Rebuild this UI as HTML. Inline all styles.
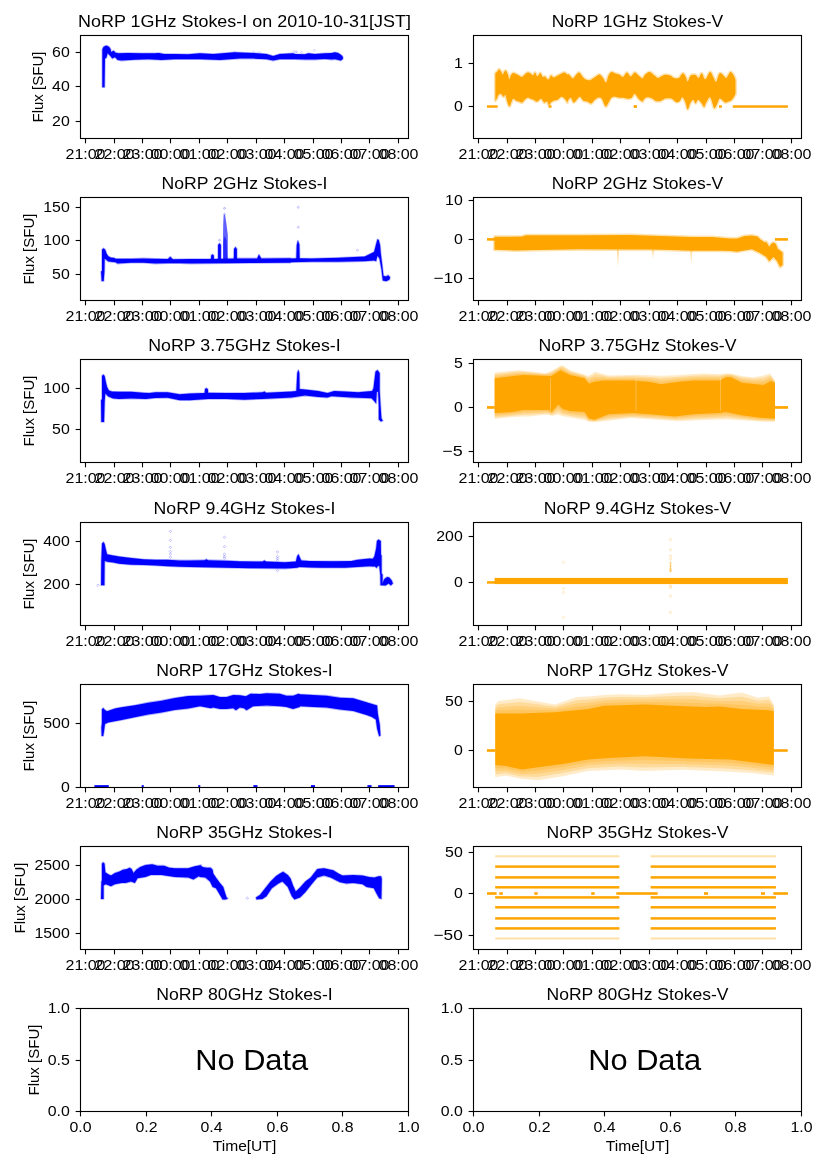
<!DOCTYPE html>
<html><head><meta charset="utf-8"><title>NoRP</title>
<style>html,body{margin:0;padding:0;background:#fff;} svg{display:block;will-change:transform;} text{font-family:"Liberation Sans",sans-serif;}</style>
</head><body>
<svg width="827" height="1169" viewBox="0 0 827 1169">
<rect x="0" y="0" width="827" height="1169" fill="#fff"/>
<g id="data">
<path d="M102.32,49.31 L103.65,46.65 L106.31,45.59 L108.97,46.65 L110.70,49.31 L110.96,51.97 L113.62,50.64 L115.62,52.64 L118.28,53.30 L128.25,53.04 L141.55,53.30 L154.85,53.30 L158.85,53.04 L164.17,53.97 L174.81,53.97 L188.11,54.37 L200.00,53.30 L213.30,53.97 L234.58,52.24 L253.20,53.04 L266.51,53.97 L273.16,55.96 L279.81,53.97 L293.11,53.30 L295.00,53.97 L304.98,54.30 L308.30,53.30 L314.95,53.97 L324.93,53.30 L331.58,52.97 L334.90,52.30 L338.23,52.97 L341.55,55.30 L342.88,56.96 L342.88,58.95 L340.89,60.62 L334.90,59.29 L331.58,59.62 L324.93,58.95 L314.95,59.62 L304.98,59.62 L295.00,59.29 L293.11,59.29 L279.81,59.29 L273.16,60.62 L266.51,59.29 L253.20,58.62 L239.90,58.62 L219.95,59.95 L200.00,59.29 L188.11,59.29 L174.81,59.29 L161.51,59.95 L148.20,59.29 L134.90,59.69 L121.60,60.62 L117.61,59.95 L114.95,57.29 L112.29,58.62 L110.30,55.96 L107.64,53.30 L106.31,57.96 L104.98,58.62 L104.58,87.22 L102.32,87.22Z" fill="none" stroke="#0000ff" stroke-width="1.6" stroke-linejoin="round" opacity="0.3"/>
<path d="M102.32,49.31 L103.65,46.65 L106.31,45.59 L108.97,46.65 L110.70,49.31 L110.96,51.97 L113.62,50.64 L115.62,52.64 L118.28,53.30 L128.25,53.04 L141.55,53.30 L154.85,53.30 L158.85,53.04 L164.17,53.97 L174.81,53.97 L188.11,54.37 L200.00,53.30 L213.30,53.97 L234.58,52.24 L253.20,53.04 L266.51,53.97 L273.16,55.96 L279.81,53.97 L293.11,53.30 L295.00,53.97 L304.98,54.30 L308.30,53.30 L314.95,53.97 L324.93,53.30 L331.58,52.97 L334.90,52.30 L338.23,52.97 L341.55,55.30 L342.88,56.96 L342.88,58.95 L340.89,60.62 L334.90,59.29 L331.58,59.62 L324.93,58.95 L314.95,59.62 L304.98,59.62 L295.00,59.29 L293.11,59.29 L279.81,59.29 L273.16,60.62 L266.51,59.29 L253.20,58.62 L239.90,58.62 L219.95,59.95 L200.00,59.29 L188.11,59.29 L174.81,59.29 L161.51,59.95 L148.20,59.29 L134.90,59.69 L121.60,60.62 L117.61,59.95 L114.95,57.29 L112.29,58.62 L110.30,55.96 L107.64,53.30 L106.31,57.96 L104.98,58.62 L104.58,87.22 L102.32,87.22Z" fill="#0000ff" />
<path d="M313.10,50.30 L314.30,49.10 L315.50,50.30 L314.30,51.50Z" fill="none" stroke="#0000ff" stroke-width="0.6" opacity="0.25"/>
<path d="M300.40,52.30 L301.60,51.10 L302.80,52.30 L301.60,53.50Z" fill="none" stroke="#0000ff" stroke-width="0.6" opacity="0.25"/>
<path d="M294.50,52.00 L295.70,50.80 L296.90,52.00 L295.70,53.20Z" fill="none" stroke="#0000ff" stroke-width="0.6" opacity="0.25"/>
<path d="M233.40,52.20 L234.60,51.00 L235.80,52.20 L234.60,53.40Z" fill="none" stroke="#0000ff" stroke-width="0.6" opacity="0.2"/>
<path d="M252.40,51.80 L253.60,50.60 L254.80,51.80 L253.60,53.00Z" fill="none" stroke="#0000ff" stroke-width="0.6" opacity="0.2"/>
<path d="M258.40,52.40 L259.60,51.20 L260.80,52.40 L259.60,53.60Z" fill="none" stroke="#0000ff" stroke-width="0.6" opacity="0.2"/>
<path d="M292.40,51.20 L293.60,50.00 L294.80,51.20 L293.60,52.40Z" fill="none" stroke="#0000ff" stroke-width="0.6" opacity="0.2"/>
<path d="M295.40,51.80 L296.60,50.60 L297.80,51.80 L296.60,53.00Z" fill="none" stroke="#0000ff" stroke-width="0.6" opacity="0.2"/>
<path d="M495.32,73.54 C495.64,73.22 496.62,72.34 497.26,71.61 C497.90,70.88 498.55,69.19 499.19,69.19 C499.83,69.19 500.56,70.72 501.12,71.61 C501.69,72.50 502.01,74.51 502.58,74.51 C503.14,74.51 503.95,72.25 504.51,71.61 C505.07,70.97 505.39,70.16 505.96,70.64 C506.52,71.12 507.33,73.06 507.90,74.51 C508.46,75.96 508.87,79.19 509.35,79.35 C509.83,79.51 510.16,76.53 510.80,75.48 C511.44,74.43 512.33,73.30 513.22,73.06 C514.11,72.82 515.15,73.63 516.12,74.03 C517.09,74.43 518.05,75.00 519.02,75.48 C519.99,75.96 520.95,77.09 521.92,76.93 C522.89,76.77 523.85,75.24 524.82,74.51 C525.79,73.78 526.76,72.74 527.73,72.58 C528.70,72.42 529.74,73.06 530.63,73.54 C531.52,74.02 532.32,75.64 533.05,75.48 C533.77,75.32 534.25,72.42 534.98,72.58 C535.71,72.74 536.51,76.36 537.40,76.44 C538.29,76.52 539.41,72.98 540.30,73.06 C541.19,73.14 541.91,76.37 542.72,76.93 C543.53,77.49 544.41,76.12 545.14,76.44 C545.87,76.76 546.43,78.38 547.07,78.86 C547.72,79.34 548.37,79.91 549.01,79.35 C549.65,78.79 550.13,75.80 550.94,75.48 C551.75,75.16 552.72,77.41 553.85,77.41 C554.98,77.41 556.42,76.12 557.71,75.48 C559.00,74.84 560.45,74.02 561.58,73.54 C562.71,73.06 563.52,72.42 564.49,72.58 C565.46,72.74 566.66,74.19 567.39,74.51 C568.12,74.83 567.98,73.87 568.87,74.51 C569.76,75.16 571.61,78.22 572.74,78.38 C573.87,78.54 574.59,76.45 575.64,75.48 C576.69,74.51 577.90,72.42 579.03,72.58 C580.16,72.74 581.36,75.31 582.41,76.44 C583.46,77.57 584.18,78.70 585.31,79.35 C586.44,79.99 587.89,80.47 589.18,80.31 C590.47,80.15 591.92,79.02 593.05,78.38 C594.18,77.73 594.91,77.08 595.96,76.44 C597.01,75.80 598.21,74.35 599.34,74.51 C600.47,74.67 601.60,76.12 602.73,77.41 C603.86,78.70 605.14,82.57 606.11,82.25 C607.08,81.93 607.64,77.17 608.53,75.48 C609.42,73.79 610.30,72.41 611.43,72.09 C612.56,71.77 614.01,73.14 615.30,73.54 C616.59,73.94 617.88,73.95 619.17,74.51 C620.46,75.08 621.75,77.25 623.04,76.93 C624.33,76.61 625.62,72.66 626.91,72.58 C628.20,72.50 629.49,76.44 630.78,76.44 C632.07,76.44 633.36,72.74 634.65,72.58 C635.94,72.42 637.23,74.51 638.52,75.48 C639.81,76.45 641.34,78.47 642.39,78.38 C643.44,78.29 643.63,76.03 644.84,74.95 C646.05,73.88 648.06,71.83 649.67,71.93 C651.28,72.03 653.10,74.55 654.51,75.56 C655.92,76.57 656.53,78.07 658.14,77.97 C659.75,77.87 662.16,75.35 664.18,74.95 C666.19,74.55 668.62,75.06 670.23,75.56 C671.84,76.06 672.45,77.57 673.86,77.97 C675.27,78.37 677.18,78.78 678.69,77.97 C680.20,77.16 681.72,73.24 682.93,73.14 C684.14,73.04 685.14,75.96 685.95,77.37 C686.76,78.78 686.95,81.90 687.76,81.60 C688.57,81.30 689.48,76.67 690.79,75.56 C692.10,74.45 694.31,74.55 695.62,74.95 C696.93,75.35 697.64,78.27 698.65,77.97 C699.66,77.67 700.56,72.94 701.67,73.14 C702.78,73.34 703.89,79.38 705.30,79.18 C706.71,78.98 708.72,72.13 710.13,71.93 C711.54,71.73 712.75,76.36 713.76,77.97 C714.77,79.58 715.17,82.41 716.18,81.60 C717.19,80.79 718.40,73.94 719.81,73.14 C721.22,72.34 723.53,75.97 724.64,76.77 C725.75,77.57 725.45,78.78 726.46,77.97 C727.47,77.16 729.28,71.93 730.69,71.93 C732.10,71.93 734.11,76.16 734.92,77.97 C735.73,79.78 735.43,82.00 735.53,82.81 L735.53,93.69 C734.92,94.70 733.31,98.33 731.90,99.74 C730.49,101.15 728.27,101.76 727.06,102.16 C725.85,102.56 725.85,102.77 724.64,102.16 C723.43,101.55 721.02,98.33 719.81,98.53 C718.60,98.73 718.30,101.76 717.39,103.37 C716.48,104.98 715.38,108.81 714.37,108.20 C713.36,107.59 712.15,101.55 711.34,99.74 C710.53,97.93 710.44,96.71 709.53,97.32 C708.62,97.92 706.81,101.76 705.90,103.37 C704.99,104.98 704.80,107.00 704.09,107.00 C703.38,107.00 702.68,104.58 701.67,103.37 C700.66,102.16 699.05,99.74 698.04,99.74 C697.03,99.74 696.43,103.37 695.62,103.37 C694.81,103.37 694.11,99.74 693.20,99.74 C692.29,99.74 691.09,101.76 690.18,103.37 C689.27,104.98 688.57,109.61 687.76,109.41 C686.95,109.21 686.25,104.17 685.34,102.16 C684.43,100.14 683.23,97.52 682.32,97.32 C681.41,97.12 680.91,100.14 679.90,100.95 C678.89,101.76 677.69,102.56 676.28,102.16 C674.87,101.76 673.26,99.14 671.44,98.53 C669.62,97.92 667.20,98.13 665.39,98.53 C663.58,98.93 662.17,100.55 660.56,100.95 C658.95,101.35 657.13,101.35 655.72,100.95 C654.31,100.55 653.50,99.14 652.09,98.53 C650.68,97.92 648.67,97.12 647.26,97.32 C645.85,97.52 644.44,99.03 643.63,99.74 C642.82,100.45 643.24,101.77 642.39,101.60 C641.54,101.42 639.81,99.98 638.52,98.69 C637.23,97.40 635.78,94.02 634.65,93.86 C633.52,93.70 632.88,96.93 631.75,97.73 C630.62,98.53 629.33,98.69 627.88,98.69 C626.43,98.69 624.49,97.89 623.04,97.73 C621.59,97.57 620.46,97.89 619.17,97.73 C617.88,97.57 616.59,96.76 615.30,96.76 C614.01,96.76 612.56,96.76 611.43,97.73 C610.30,98.70 609.50,101.11 608.53,102.56 C607.56,104.01 606.76,107.08 605.63,106.43 C604.50,105.79 603.05,100.14 601.76,98.69 C600.47,97.24 599.18,97.41 597.89,97.73 C596.60,98.05 595.15,99.66 594.02,100.63 C592.89,101.60 592.25,103.37 591.12,103.53 C589.99,103.69 588.54,102.08 587.25,101.60 C585.96,101.12 584.59,101.44 583.38,100.63 C582.17,99.82 580.96,97.08 579.99,96.76 C579.02,96.44 578.63,97.72 577.58,98.69 C576.53,99.66 574.84,102.72 573.71,102.56 C572.58,102.40 571.77,98.05 570.80,97.73 C569.83,97.41 568.47,99.82 567.90,100.63 C567.33,101.44 567.80,102.72 567.39,102.56 C566.98,102.40 566.42,100.63 565.45,99.66 C564.48,98.69 562.87,96.76 561.58,96.76 C560.29,96.76 559.00,99.02 557.71,99.66 C556.42,100.30 554.98,100.15 553.85,100.63 C552.72,101.11 551.75,101.75 550.94,102.56 C550.13,103.37 549.65,105.63 549.01,105.47 C548.37,105.31 547.88,102.08 547.07,101.60 C546.26,101.11 545.14,103.05 544.17,102.56 C543.20,102.08 542.24,99.01 541.27,98.69 C540.30,98.37 539.18,100.14 538.37,100.63 C537.56,101.11 537.24,101.76 536.43,101.60 C535.62,101.44 534.50,100.14 533.53,99.66 C532.56,99.17 531.60,99.01 530.63,98.69 C529.66,98.37 528.70,97.57 527.73,97.73 C526.76,97.89 525.79,98.85 524.82,99.66 C523.85,100.47 522.89,102.24 521.92,102.56 C520.95,102.88 519.99,101.92 519.02,101.60 C518.05,101.28 517.09,101.11 516.12,100.63 C515.15,100.14 514.03,98.37 513.22,98.69 C512.41,99.01 511.92,101.27 511.28,102.56 C510.63,103.85 510.08,106.75 509.35,106.43 C508.62,106.11 507.57,102.56 506.93,100.63 C506.29,98.69 506.05,95.46 505.48,94.82 C504.92,94.17 504.35,96.92 503.54,96.76 C502.73,96.60 501.44,94.18 500.64,93.86 C499.83,93.54 499.35,94.01 498.71,94.82 C498.06,95.62 497.33,97.72 496.77,98.69 C496.20,99.66 495.56,100.31 495.32,100.63Z" fill="none" stroke="#ffa500" stroke-width="3.0" stroke-linejoin="round" opacity="0.3"/>
<path d="M495.32,73.54 C495.64,73.22 496.62,72.34 497.26,71.61 C497.90,70.88 498.55,69.19 499.19,69.19 C499.83,69.19 500.56,70.72 501.12,71.61 C501.69,72.50 502.01,74.51 502.58,74.51 C503.14,74.51 503.95,72.25 504.51,71.61 C505.07,70.97 505.39,70.16 505.96,70.64 C506.52,71.12 507.33,73.06 507.90,74.51 C508.46,75.96 508.87,79.19 509.35,79.35 C509.83,79.51 510.16,76.53 510.80,75.48 C511.44,74.43 512.33,73.30 513.22,73.06 C514.11,72.82 515.15,73.63 516.12,74.03 C517.09,74.43 518.05,75.00 519.02,75.48 C519.99,75.96 520.95,77.09 521.92,76.93 C522.89,76.77 523.85,75.24 524.82,74.51 C525.79,73.78 526.76,72.74 527.73,72.58 C528.70,72.42 529.74,73.06 530.63,73.54 C531.52,74.02 532.32,75.64 533.05,75.48 C533.77,75.32 534.25,72.42 534.98,72.58 C535.71,72.74 536.51,76.36 537.40,76.44 C538.29,76.52 539.41,72.98 540.30,73.06 C541.19,73.14 541.91,76.37 542.72,76.93 C543.53,77.49 544.41,76.12 545.14,76.44 C545.87,76.76 546.43,78.38 547.07,78.86 C547.72,79.34 548.37,79.91 549.01,79.35 C549.65,78.79 550.13,75.80 550.94,75.48 C551.75,75.16 552.72,77.41 553.85,77.41 C554.98,77.41 556.42,76.12 557.71,75.48 C559.00,74.84 560.45,74.02 561.58,73.54 C562.71,73.06 563.52,72.42 564.49,72.58 C565.46,72.74 566.66,74.19 567.39,74.51 C568.12,74.83 567.98,73.87 568.87,74.51 C569.76,75.16 571.61,78.22 572.74,78.38 C573.87,78.54 574.59,76.45 575.64,75.48 C576.69,74.51 577.90,72.42 579.03,72.58 C580.16,72.74 581.36,75.31 582.41,76.44 C583.46,77.57 584.18,78.70 585.31,79.35 C586.44,79.99 587.89,80.47 589.18,80.31 C590.47,80.15 591.92,79.02 593.05,78.38 C594.18,77.73 594.91,77.08 595.96,76.44 C597.01,75.80 598.21,74.35 599.34,74.51 C600.47,74.67 601.60,76.12 602.73,77.41 C603.86,78.70 605.14,82.57 606.11,82.25 C607.08,81.93 607.64,77.17 608.53,75.48 C609.42,73.79 610.30,72.41 611.43,72.09 C612.56,71.77 614.01,73.14 615.30,73.54 C616.59,73.94 617.88,73.95 619.17,74.51 C620.46,75.08 621.75,77.25 623.04,76.93 C624.33,76.61 625.62,72.66 626.91,72.58 C628.20,72.50 629.49,76.44 630.78,76.44 C632.07,76.44 633.36,72.74 634.65,72.58 C635.94,72.42 637.23,74.51 638.52,75.48 C639.81,76.45 641.34,78.47 642.39,78.38 C643.44,78.29 643.63,76.03 644.84,74.95 C646.05,73.88 648.06,71.83 649.67,71.93 C651.28,72.03 653.10,74.55 654.51,75.56 C655.92,76.57 656.53,78.07 658.14,77.97 C659.75,77.87 662.16,75.35 664.18,74.95 C666.19,74.55 668.62,75.06 670.23,75.56 C671.84,76.06 672.45,77.57 673.86,77.97 C675.27,78.37 677.18,78.78 678.69,77.97 C680.20,77.16 681.72,73.24 682.93,73.14 C684.14,73.04 685.14,75.96 685.95,77.37 C686.76,78.78 686.95,81.90 687.76,81.60 C688.57,81.30 689.48,76.67 690.79,75.56 C692.10,74.45 694.31,74.55 695.62,74.95 C696.93,75.35 697.64,78.27 698.65,77.97 C699.66,77.67 700.56,72.94 701.67,73.14 C702.78,73.34 703.89,79.38 705.30,79.18 C706.71,78.98 708.72,72.13 710.13,71.93 C711.54,71.73 712.75,76.36 713.76,77.97 C714.77,79.58 715.17,82.41 716.18,81.60 C717.19,80.79 718.40,73.94 719.81,73.14 C721.22,72.34 723.53,75.97 724.64,76.77 C725.75,77.57 725.45,78.78 726.46,77.97 C727.47,77.16 729.28,71.93 730.69,71.93 C732.10,71.93 734.11,76.16 734.92,77.97 C735.73,79.78 735.43,82.00 735.53,82.81 L735.53,93.69 C734.92,94.70 733.31,98.33 731.90,99.74 C730.49,101.15 728.27,101.76 727.06,102.16 C725.85,102.56 725.85,102.77 724.64,102.16 C723.43,101.55 721.02,98.33 719.81,98.53 C718.60,98.73 718.30,101.76 717.39,103.37 C716.48,104.98 715.38,108.81 714.37,108.20 C713.36,107.59 712.15,101.55 711.34,99.74 C710.53,97.93 710.44,96.71 709.53,97.32 C708.62,97.92 706.81,101.76 705.90,103.37 C704.99,104.98 704.80,107.00 704.09,107.00 C703.38,107.00 702.68,104.58 701.67,103.37 C700.66,102.16 699.05,99.74 698.04,99.74 C697.03,99.74 696.43,103.37 695.62,103.37 C694.81,103.37 694.11,99.74 693.20,99.74 C692.29,99.74 691.09,101.76 690.18,103.37 C689.27,104.98 688.57,109.61 687.76,109.41 C686.95,109.21 686.25,104.17 685.34,102.16 C684.43,100.14 683.23,97.52 682.32,97.32 C681.41,97.12 680.91,100.14 679.90,100.95 C678.89,101.76 677.69,102.56 676.28,102.16 C674.87,101.76 673.26,99.14 671.44,98.53 C669.62,97.92 667.20,98.13 665.39,98.53 C663.58,98.93 662.17,100.55 660.56,100.95 C658.95,101.35 657.13,101.35 655.72,100.95 C654.31,100.55 653.50,99.14 652.09,98.53 C650.68,97.92 648.67,97.12 647.26,97.32 C645.85,97.52 644.44,99.03 643.63,99.74 C642.82,100.45 643.24,101.77 642.39,101.60 C641.54,101.42 639.81,99.98 638.52,98.69 C637.23,97.40 635.78,94.02 634.65,93.86 C633.52,93.70 632.88,96.93 631.75,97.73 C630.62,98.53 629.33,98.69 627.88,98.69 C626.43,98.69 624.49,97.89 623.04,97.73 C621.59,97.57 620.46,97.89 619.17,97.73 C617.88,97.57 616.59,96.76 615.30,96.76 C614.01,96.76 612.56,96.76 611.43,97.73 C610.30,98.70 609.50,101.11 608.53,102.56 C607.56,104.01 606.76,107.08 605.63,106.43 C604.50,105.79 603.05,100.14 601.76,98.69 C600.47,97.24 599.18,97.41 597.89,97.73 C596.60,98.05 595.15,99.66 594.02,100.63 C592.89,101.60 592.25,103.37 591.12,103.53 C589.99,103.69 588.54,102.08 587.25,101.60 C585.96,101.12 584.59,101.44 583.38,100.63 C582.17,99.82 580.96,97.08 579.99,96.76 C579.02,96.44 578.63,97.72 577.58,98.69 C576.53,99.66 574.84,102.72 573.71,102.56 C572.58,102.40 571.77,98.05 570.80,97.73 C569.83,97.41 568.47,99.82 567.90,100.63 C567.33,101.44 567.80,102.72 567.39,102.56 C566.98,102.40 566.42,100.63 565.45,99.66 C564.48,98.69 562.87,96.76 561.58,96.76 C560.29,96.76 559.00,99.02 557.71,99.66 C556.42,100.30 554.98,100.15 553.85,100.63 C552.72,101.11 551.75,101.75 550.94,102.56 C550.13,103.37 549.65,105.63 549.01,105.47 C548.37,105.31 547.88,102.08 547.07,101.60 C546.26,101.11 545.14,103.05 544.17,102.56 C543.20,102.08 542.24,99.01 541.27,98.69 C540.30,98.37 539.18,100.14 538.37,100.63 C537.56,101.11 537.24,101.76 536.43,101.60 C535.62,101.44 534.50,100.14 533.53,99.66 C532.56,99.17 531.60,99.01 530.63,98.69 C529.66,98.37 528.70,97.57 527.73,97.73 C526.76,97.89 525.79,98.85 524.82,99.66 C523.85,100.47 522.89,102.24 521.92,102.56 C520.95,102.88 519.99,101.92 519.02,101.60 C518.05,101.28 517.09,101.11 516.12,100.63 C515.15,100.14 514.03,98.37 513.22,98.69 C512.41,99.01 511.92,101.27 511.28,102.56 C510.63,103.85 510.08,106.75 509.35,106.43 C508.62,106.11 507.57,102.56 506.93,100.63 C506.29,98.69 506.05,95.46 505.48,94.82 C504.92,94.17 504.35,96.92 503.54,96.76 C502.73,96.60 501.44,94.18 500.64,93.86 C499.83,93.54 499.35,94.01 498.71,94.82 C498.06,95.62 497.33,97.72 496.77,98.69 C496.20,99.66 495.56,100.31 495.32,100.63Z" fill="#ffa500"/>
<rect x="486.98" y="105.30" width="10.69" height="2.47" fill="#ffa500" />
<rect x="548.65" y="105.30" width="2.88" height="2.47" fill="#ffa500" />
<rect x="633.96" y="105.30" width="2.88" height="2.47" fill="#ffa500" />
<rect x="732.78" y="105.30" width="55.09" height="2.47" fill="#ffa500" />
<rect x="633.70" y="105.30" width="2.88" height="2.47" fill="#ffa500" />
<rect x="719.01" y="105.30" width="2.88" height="2.47" fill="#ffa500" />
<path d="M102.01,249.67 L103.46,248.22 L105.28,249.67 L106.49,253.30 L108.30,256.32 L110.72,257.53 L114.35,257.90 L115.56,258.74 L131.28,258.74 L143.37,258.38 L155.46,258.74 L167.55,259.11 L168.76,258.14 L170.21,256.69 L171.78,258.14 L172.99,259.35 L190.00,259.11 L214.18,259.11 L238.37,258.38 L257.11,258.38 L258.92,254.51 L261.34,258.38 L290.00,258.14 L291.65,258.52 L296.31,258.26 L296.70,245.22 L297.90,240.57 L299.37,244.56 L299.63,258.26 L311.60,258.52 L338.20,257.86 L364.81,256.53 L371.46,253.20 L374.12,251.87 L376.11,243.89 L377.44,239.24 L378.77,239.90 L380.10,245.22 L380.77,253.20 L382.10,263.85 L383.43,275.82 L386.09,276.48 L388.08,275.15 L390.08,277.15 L389.41,279.81 L386.09,281.14 L382.76,280.47 L381.43,269.17 L379.44,258.52 L377.44,255.86 L376.11,261.19 L374.12,260.52 L364.81,261.19 L338.20,261.85 L311.60,261.85 L291.65,262.25 L290.00,262.73 L250.46,262.97 L226.28,263.22 L190.00,263.58 L179.64,263.22 L167.55,263.22 L155.46,263.58 L143.37,262.73 L131.28,262.73 L117.37,263.58 L115.56,262.37 L108.30,261.52 L105.88,259.59 L104.67,258.74 L104.43,271.44 L103.71,281.11 L101.65,281.11 L101.05,271.44 L102.01,270.83Z" fill="none" stroke="#0000ff" stroke-width="1.6" stroke-linejoin="round" opacity="0.3"/>
<path d="M102.01,249.67 L103.46,248.22 L105.28,249.67 L106.49,253.30 L108.30,256.32 L110.72,257.53 L114.35,257.90 L115.56,258.74 L131.28,258.74 L143.37,258.38 L155.46,258.74 L167.55,259.11 L168.76,258.14 L170.21,256.69 L171.78,258.14 L172.99,259.35 L190.00,259.11 L214.18,259.11 L238.37,258.38 L257.11,258.38 L258.92,254.51 L261.34,258.38 L290.00,258.14 L291.65,258.52 L296.31,258.26 L296.70,245.22 L297.90,240.57 L299.37,244.56 L299.63,258.26 L311.60,258.52 L338.20,257.86 L364.81,256.53 L371.46,253.20 L374.12,251.87 L376.11,243.89 L377.44,239.24 L378.77,239.90 L380.10,245.22 L380.77,253.20 L382.10,263.85 L383.43,275.82 L386.09,276.48 L388.08,275.15 L390.08,277.15 L389.41,279.81 L386.09,281.14 L382.76,280.47 L381.43,269.17 L379.44,258.52 L377.44,255.86 L376.11,261.19 L374.12,260.52 L364.81,261.19 L338.20,261.85 L311.60,261.85 L291.65,262.25 L290.00,262.73 L250.46,262.97 L226.28,263.22 L190.00,263.58 L179.64,263.22 L167.55,263.22 L155.46,263.58 L143.37,262.73 L131.28,262.73 L117.37,263.58 L115.56,262.37 L108.30,261.52 L105.88,259.59 L104.67,258.74 L104.43,271.44 L103.71,281.11 L101.65,281.11 L101.05,271.44 L102.01,270.83Z" fill="#0000ff" />
<path d="M218.10,259.50 L218.10,245.00 L219.50,243.30 L220.90,245.00 L220.90,259.50Z" fill="none" stroke="#0000ff" stroke-width="1.6" stroke-linejoin="round" opacity="0.3"/>
<path d="M218.10,259.50 L218.10,245.00 L219.50,243.30 L220.90,245.00 L220.90,259.50Z" fill="#0000ff" />
<circle cx="219.5" cy="240.2" r="0.9" fill="none" stroke="#0000ff" stroke-width="0.5" opacity="0.5"/>
<path d="M223.00,259.50 L223.00,240.00 L223.20,225.00 L223.60,215.20 L225.00,214.50 L226.20,222.00 L227.80,235.00 L227.80,259.50Z" fill="#0000ff" opacity="0.62"/>
<path d="M223.40,259.50 L223.50,242.00 L224.50,236.00 L226.50,240.00 L227.50,259.50Z" fill="#0000ff" opacity="0.6"/>
<circle cx="224.5" cy="208.3" r="0.9" fill="none" stroke="#0000ff" stroke-width="0.5" opacity="0.5"/>
<circle cx="224.5" cy="214.2" r="0.9" fill="none" stroke="#0000ff" stroke-width="0.5" opacity="0.5"/>
<path d="M233.90,259.50 L234.00,249.00 L235.50,247.00 L236.90,249.00 L236.90,259.50Z" fill="none" stroke="#0000ff" stroke-width="1.6" stroke-linejoin="round" opacity="0.3"/>
<path d="M233.90,259.50 L234.00,249.00 L235.50,247.00 L236.90,249.00 L236.90,259.50Z" fill="#0000ff" />
<path d="M211.00,259.50 L211.20,255.50 L212.40,254.30 L213.80,255.50 L213.90,259.50Z" fill="none" stroke="#0000ff" stroke-width="1.6" stroke-linejoin="round" opacity="0.3"/>
<path d="M211.00,259.50 L211.20,255.50 L212.40,254.30 L213.80,255.50 L213.90,259.50Z" fill="#0000ff" />
<circle cx="298.3" cy="207.3" r="1.0" fill="none" stroke="#0000ff" stroke-width="0.6" opacity="0.35"/>
<circle cx="298.3" cy="227.3" r="1.0" fill="none" stroke="#0000ff" stroke-width="0.6" opacity="0.35"/>
<circle cx="357.5" cy="250.3" r="1.0" fill="none" stroke="#0000ff" stroke-width="0.6" opacity="0.3"/>
<rect x="487.00" y="238.10" width="8.70" height="2.60" fill="#ffa500" />
<path d="M494.50,236.80 L522.00,236.50 L526.00,235.30 L580.00,235.30 L630.00,235.03 L660.83,236.06 L691.67,237.08 L712.22,237.08 L730.00,238.42 L737.26,238.42 L744.51,235.88 L751.77,235.52 L757.57,236.61 L760.47,239.51 L764.82,242.41 L766.28,241.69 L769.18,246.77 L771.35,243.86 L773.53,242.41 L775.71,243.86 L777.88,248.94 L780.79,251.12 L782.60,252.57 L782.60,264.90 L780.06,267.08 L777.16,261.28 L773.53,256.92 L769.18,261.28 L766.28,256.92 L759.02,252.57 L751.77,249.30 L744.51,250.39 L737.26,251.84 L730.00,251.12 L722.50,250.86 L701.95,250.86 L691.67,250.86 L671.11,250.04 L650.56,249.42 L630.00,249.42 L580.00,249.20 L540.00,250.00 L516.00,250.40 L494.50,249.80Z" fill="none" stroke="#ffa500" stroke-width="3.0" stroke-linejoin="round" opacity="0.3"/>
<path d="M494.50,236.80 L522.00,236.50 L526.00,235.30 L580.00,235.30 L630.00,235.03 L660.83,236.06 L691.67,237.08 L712.22,237.08 L730.00,238.42 L737.26,238.42 L744.51,235.88 L751.77,235.52 L757.57,236.61 L760.47,239.51 L764.82,242.41 L766.28,241.69 L769.18,246.77 L771.35,243.86 L773.53,242.41 L775.71,243.86 L777.88,248.94 L780.79,251.12 L782.60,252.57 L782.60,264.90 L780.06,267.08 L777.16,261.28 L773.53,256.92 L769.18,261.28 L766.28,256.92 L759.02,252.57 L751.77,249.30 L744.51,250.39 L737.26,251.84 L730.00,251.12 L722.50,250.86 L701.95,250.86 L691.67,250.86 L671.11,250.04 L650.56,249.42 L630.00,249.42 L580.00,249.20 L540.00,250.00 L516.00,250.40 L494.50,249.80Z" fill="#ffa500" />
<rect x="774.90" y="238.10" width="13.00" height="2.60" fill="#ffa500" />
<path d="M616.89,249.42 L617.92,266.89 L618.95,249.42Z" fill="#ffa500" opacity="0.4"/>
<path d="M651.58,249.42 L653.02,258.67 L654.26,249.42Z" fill="#ffa500" opacity="0.3"/>
<path d="M690.23,250.86 L691.26,263.81 L692.29,250.86Z" fill="#ffa500" opacity="0.35"/>
<path d="M102.01,376.05 L103.22,374.59 L104.67,376.05 L105.88,382.09 L107.09,386.93 L108.91,390.56 L111.93,391.52 L119.18,391.77 L131.28,391.77 L143.37,392.73 L149.41,392.97 L155.46,392.37 L167.55,392.37 L179.64,394.18 L190.00,393.58 L204.51,392.97 L205.11,388.74 L206.32,388.14 L207.90,389.11 L208.14,392.73 L226.28,392.97 L244.41,392.97 L262.55,392.37 L264.37,391.52 L266.18,392.73 L291.65,391.60 L296.31,390.94 L297.24,372.98 L298.30,370.05 L299.37,372.98 L299.63,388.94 L304.95,389.61 L318.25,390.94 L327.56,392.93 L334.21,390.94 L344.85,391.60 L358.16,392.27 L372.12,390.94 L373.45,388.28 L375.45,371.65 L377.44,370.05 L379.70,372.98 L379.70,390.27 L380.50,404.90 L381.43,418.20 L382.76,420.86 L381.03,421.53 L378.77,419.53 L378.77,406.23 L378.11,391.60 L376.78,392.27 L376.11,403.57 L374.12,400.91 L371.46,398.25 L351.51,397.59 L331.55,396.26 L327.56,397.59 L318.25,396.92 L304.95,395.59 L291.65,397.59 L262.55,399.02 L244.41,399.63 L226.28,399.02 L208.14,399.02 L190.00,400.23 L179.64,400.23 L167.55,397.81 L155.46,398.05 L145.79,399.02 L131.28,398.42 L119.18,399.02 L113.14,398.42 L108.30,396.60 L105.28,393.58 L104.67,401.44 L104.07,422.00 L101.29,422.00 L101.05,400.23 L102.01,399.02Z" fill="none" stroke="#0000ff" stroke-width="1.6" stroke-linejoin="round" opacity="0.3"/>
<path d="M102.01,376.05 L103.22,374.59 L104.67,376.05 L105.88,382.09 L107.09,386.93 L108.91,390.56 L111.93,391.52 L119.18,391.77 L131.28,391.77 L143.37,392.73 L149.41,392.97 L155.46,392.37 L167.55,392.37 L179.64,394.18 L190.00,393.58 L204.51,392.97 L205.11,388.74 L206.32,388.14 L207.90,389.11 L208.14,392.73 L226.28,392.97 L244.41,392.97 L262.55,392.37 L264.37,391.52 L266.18,392.73 L291.65,391.60 L296.31,390.94 L297.24,372.98 L298.30,370.05 L299.37,372.98 L299.63,388.94 L304.95,389.61 L318.25,390.94 L327.56,392.93 L334.21,390.94 L344.85,391.60 L358.16,392.27 L372.12,390.94 L373.45,388.28 L375.45,371.65 L377.44,370.05 L379.70,372.98 L379.70,390.27 L380.50,404.90 L381.43,418.20 L382.76,420.86 L381.03,421.53 L378.77,419.53 L378.77,406.23 L378.11,391.60 L376.78,392.27 L376.11,403.57 L374.12,400.91 L371.46,398.25 L351.51,397.59 L331.55,396.26 L327.56,397.59 L318.25,396.92 L304.95,395.59 L291.65,397.59 L262.55,399.02 L244.41,399.63 L226.28,399.02 L208.14,399.02 L190.00,400.23 L179.64,400.23 L167.55,397.81 L155.46,398.05 L145.79,399.02 L131.28,398.42 L119.18,399.02 L113.14,398.42 L108.30,396.60 L105.28,393.58 L104.67,401.44 L104.07,422.00 L101.29,422.00 L101.05,400.23 L102.01,399.02Z" fill="#0000ff" />
<rect x="487.00" y="406.10" width="7.70" height="2.70" fill="#ffa500" />
<rect x="775.00" y="406.10" width="13.00" height="2.70" fill="#ffa500" />
<path d="M494.70,372.60 L512.60,370.78 L518.00,370.28 L523.50,370.72 L529.00,371.35 L545.30,373.22 L548.60,371.94 L551.30,370.87 L551.80,370.59 L556.20,368.13 L558.30,366.97 L560.50,365.75 L562.70,365.15 L566.00,367.38 L570.00,370.15 L584.60,374.53 L586.80,375.76 L589.00,375.41 L593.30,372.92 L594.40,372.35 L595.50,371.79 L603.00,373.88 L608.50,375.62 L630.00,374.88 L634.60,374.86 L638.00,374.97 L650.00,375.17 L661.00,375.78 L675.00,375.32 L677.00,375.25 L682.60,374.85 L693.50,374.06 L704.40,373.52 L715.00,373.93 L719.60,374.11 L720.00,374.07 L726.00,373.42 L730.90,373.52 L731.00,373.53 L741.80,375.90 L753.00,377.21 L758.00,376.39 L763.50,375.48 L769.00,373.71 L770.00,373.41 L771.10,374.81 L775.00,380.75 L775.00,421.82 L771.10,421.76 L770.00,421.74 L769.00,421.73 L763.50,421.64 L758.00,421.34 L753.00,420.98 L741.80,420.18 L731.00,419.63 L730.90,419.62 L726.00,419.38 L720.00,419.61 L719.60,419.62 L715.00,419.67 L704.40,420.06 L693.50,420.45 L682.60,421.05 L677.00,420.94 L675.00,420.91 L661.00,419.92 L650.00,419.15 L638.00,418.48 L634.60,418.24 L630.00,418.10 L608.50,420.72 L603.00,421.26 L595.50,421.99 L594.40,422.10 L593.30,422.04 L589.00,421.82 L586.80,421.01 L584.60,419.89 L570.00,417.52 L566.00,416.85 L562.70,416.29 L560.50,415.50 L558.30,414.70 L556.20,415.11 L551.80,415.98 L551.30,415.84 L548.60,415.11 L545.30,414.77 L529.00,416.43 L523.50,416.43 L518.00,416.70 L512.60,416.98 L494.70,418.88Z" fill="#ffa500" opacity="0.22"/>
<path d="M494.70,374.02 L512.60,372.11 L518.00,371.61 L523.50,371.82 L529.00,372.34 L545.30,373.90 L548.60,372.98 L551.30,372.18 L551.80,371.89 L556.20,369.32 L558.30,368.12 L560.50,366.86 L562.70,366.68 L566.00,368.76 L570.00,371.39 L584.60,375.48 L586.80,377.08 L589.00,377.51 L593.30,375.19 L594.40,374.72 L595.50,374.26 L603.00,375.53 L608.50,376.84 L630.00,376.28 L634.60,376.27 L638.00,376.48 L650.00,376.88 L661.00,377.91 L675.00,377.06 L677.00,376.94 L682.60,376.51 L693.50,375.67 L704.40,375.27 L715.00,375.57 L719.60,375.71 L720.00,375.63 L726.00,374.37 L730.90,374.44 L731.00,374.45 L741.80,377.60 L753.00,378.87 L758.00,378.38 L763.50,377.84 L769.00,375.79 L770.00,375.44 L771.10,376.36 L775.00,381.31 L775.00,421.02 L771.10,420.91 L770.00,420.88 L769.00,420.85 L763.50,420.69 L758.00,420.38 L753.00,419.94 L741.80,418.96 L731.00,418.00 L730.90,417.99 L726.00,417.56 L720.00,417.97 L719.60,417.99 L715.00,418.08 L704.40,418.48 L693.50,418.89 L682.60,419.66 L677.00,419.75 L675.00,419.78 L661.00,418.73 L650.00,417.91 L638.00,417.24 L634.60,416.95 L630.00,416.90 L608.50,419.09 L603.00,420.03 L595.50,421.31 L594.40,421.50 L593.30,421.40 L589.00,421.02 L586.80,419.60 L584.60,417.94 L570.00,415.89 L566.00,415.11 L562.70,414.47 L560.50,413.30 L558.30,412.13 L556.20,413.06 L551.80,415.01 L551.30,414.82 L548.60,413.80 L545.30,413.56 L529.00,414.79 L523.50,414.79 L518.00,415.28 L512.60,415.76 L494.70,417.43Z" fill="#ffa500" opacity="0.22"/>
<path d="M494.70,375.45 L512.60,373.44 L518.00,372.94 L523.50,372.91 L529.00,373.34 L545.30,374.59 L548.60,374.02 L551.30,373.49 L551.80,373.18 L556.20,370.51 L558.30,369.27 L560.50,367.97 L562.70,368.21 L566.00,370.14 L570.00,372.62 L584.60,376.42 L586.80,378.41 L589.00,379.60 L593.30,377.46 L594.40,377.09 L595.50,376.72 L603.00,377.19 L608.50,378.06 L630.00,377.69 L634.60,377.68 L638.00,377.99 L650.00,378.59 L661.00,380.04 L675.00,378.80 L677.00,378.62 L682.60,378.17 L693.50,377.28 L704.40,377.01 L715.00,377.22 L719.60,377.30 L720.00,377.18 L726.00,375.31 L730.90,375.36 L731.00,375.37 L741.80,379.30 L753.00,380.52 L758.00,380.36 L763.50,380.19 L769.00,377.86 L770.00,377.46 L771.10,377.90 L775.00,381.88 L775.00,420.21 L771.10,420.05 L770.00,420.01 L769.00,419.97 L763.50,419.75 L758.00,419.42 L753.00,418.90 L741.80,417.74 L731.00,416.37 L730.90,416.36 L726.00,415.74 L720.00,416.32 L719.60,416.36 L715.00,416.48 L704.40,416.90 L693.50,417.32 L682.60,418.27 L677.00,418.55 L675.00,418.65 L661.00,417.55 L650.00,416.68 L638.00,415.99 L634.60,415.67 L630.00,415.70 L608.50,417.46 L603.00,418.80 L595.50,420.63 L594.40,420.90 L593.30,420.76 L589.00,420.21 L586.80,418.18 L584.60,415.99 L570.00,414.26 L566.00,413.38 L562.70,412.65 L560.50,411.10 L558.30,409.55 L556.20,411.00 L551.80,414.04 L551.30,413.80 L548.60,412.50 L545.30,412.34 L529.00,413.16 L523.50,413.16 L518.00,413.86 L512.60,414.54 L494.70,415.99Z" fill="#ffa500" opacity="0.22"/>
<path d="M494.70,376.88 L512.60,374.77 L518.00,374.27 L523.50,374.01 L529.00,374.33 L545.30,375.28 L548.60,375.06 L551.30,374.79 L551.80,374.48 L556.20,371.71 L558.30,370.43 L560.50,369.09 L562.70,369.75 L566.00,371.52 L570.00,373.86 L584.60,377.36 L586.80,379.73 L589.00,381.70 L593.30,379.73 L594.40,379.46 L595.50,379.19 L603.00,378.84 L608.50,379.28 L630.00,379.09 L634.60,379.09 L638.00,379.49 L650.00,380.29 L661.00,382.17 L675.00,380.54 L677.00,380.31 L682.60,379.83 L693.50,378.89 L704.40,378.76 L715.00,378.86 L719.60,378.90 L720.00,378.74 L726.00,376.26 L730.90,376.28 L731.00,376.28 L741.80,381.00 L753.00,382.18 L758.00,382.35 L763.50,382.55 L769.00,379.93 L770.00,379.49 L771.10,379.45 L775.00,382.44 L775.00,419.41 L771.10,419.20 L770.00,419.14 L769.00,419.09 L763.50,418.80 L758.00,418.46 L753.00,417.86 L741.80,416.52 L731.00,414.74 L730.90,414.73 L726.00,413.92 L720.00,414.68 L719.60,414.73 L715.00,414.89 L704.40,415.32 L693.50,415.76 L682.60,416.88 L677.00,417.36 L675.00,417.53 L661.00,416.36 L650.00,415.44 L638.00,414.75 L634.60,414.38 L630.00,414.50 L608.50,415.83 L603.00,417.57 L595.50,419.95 L594.40,420.30 L593.30,420.12 L589.00,419.41 L586.80,416.77 L584.60,414.05 L570.00,412.63 L566.00,411.64 L562.70,410.82 L560.50,408.90 L558.30,406.98 L556.20,408.94 L551.80,413.07 L551.30,412.78 L548.60,411.20 L545.30,411.12 L529.00,411.53 L523.50,411.53 L518.00,412.43 L512.60,413.32 L494.70,414.54Z" fill="#ffa500" opacity="0.22"/>
<path d="M494.70,378.30 L512.60,376.10 L523.50,375.10 L548.60,376.10 L551.30,376.10 L556.20,372.90 L560.50,370.20 L566.00,372.90 L570.00,375.10 L584.60,378.30 L589.00,383.80 L593.30,382.00 L603.00,380.50 L634.60,380.50 L638.00,381.00 L650.00,382.00 L661.00,384.30 L677.00,382.00 L693.50,380.50 L719.60,380.50 L726.00,377.20 L731.00,377.20 L741.80,382.70 L763.50,384.90 L769.00,382.00 L771.10,381.00 L775.00,383.00 L775.00,418.60 L758.00,417.50 L741.80,415.30 L726.00,412.10 L719.60,413.10 L693.50,414.20 L675.00,416.40 L650.00,414.20 L638.00,413.50 L634.60,413.10 L608.50,414.20 L594.40,419.70 L589.00,418.60 L584.60,412.10 L570.00,411.00 L562.70,409.00 L558.30,404.40 L551.80,412.10 L548.60,409.90 L523.50,409.90 L512.60,412.10 L494.70,413.10Z" fill="#ffa500" />
<rect x="550.00" y="378" width="0.8" height="33" fill="#fff" opacity="0.35"/>
<rect x="635.60" y="378" width="0.8" height="33" fill="#fff" opacity="0.35"/>
<rect x="720.10" y="378" width="0.8" height="33" fill="#fff" opacity="0.35"/>
<path d="M102.01,543.46 L103.46,542.01 L104.67,544.07 L105.88,549.51 L107.09,554.35 L111.93,555.31 L119.18,556.52 L125.23,557.37 L131.28,557.97 L143.37,559.18 L155.46,559.79 L167.55,559.79 L179.64,560.39 L190.00,560.39 L204.51,560.15 L206.32,559.18 L208.14,560.15 L226.28,560.63 L238.37,561.36 L262.55,561.60 L264.37,560.39 L266.18,561.60 L285.00,562.21 L295.88,561.60 L297.09,556.16 L298.54,554.35 L300.11,557.97 L301.32,560.39 L309.18,561.00 L333.37,561.36 L351.51,561.00 L357.55,559.79 L369.64,558.58 L372.80,558.70 L374.40,556.20 L376.20,548.00 L376.90,541.00 L378.50,539.50 L380.80,541.00 L381.00,555.00 L381.60,555.20 L381.60,573.60 L382.60,574.50 L382.60,583.50 L383.40,580.80 L384.60,578.80 L387.20,577.00 L389.30,577.50 L391.80,580.60 L392.90,583.40 L390.80,585.40 L388.70,583.40 L385.70,585.40 L380.50,585.20 L380.30,575.20 L379.20,565.40 L377.50,566.50 L376.50,568.00 L375.00,566.50 L372.00,566.50 L369.64,566.20 L357.55,567.04 L345.46,567.65 L333.37,567.65 L321.28,567.65 L309.18,567.41 L299.51,567.04 L297.09,567.65 L291.05,568.25 L285.00,568.62 L250.46,568.25 L226.28,567.65 L190.00,567.04 L179.64,566.68 L167.55,566.20 L155.46,565.47 L143.37,564.99 L131.28,564.63 L119.18,563.78 L113.14,562.57 L107.09,561.84 L104.67,561.00 L104.43,585.18 L101.05,585.18 L101.29,561.00Z" fill="none" stroke="#0000ff" stroke-width="1.6" stroke-linejoin="round" opacity="0.3"/>
<path d="M102.01,543.46 L103.46,542.01 L104.67,544.07 L105.88,549.51 L107.09,554.35 L111.93,555.31 L119.18,556.52 L125.23,557.37 L131.28,557.97 L143.37,559.18 L155.46,559.79 L167.55,559.79 L179.64,560.39 L190.00,560.39 L204.51,560.15 L206.32,559.18 L208.14,560.15 L226.28,560.63 L238.37,561.36 L262.55,561.60 L264.37,560.39 L266.18,561.60 L285.00,562.21 L295.88,561.60 L297.09,556.16 L298.54,554.35 L300.11,557.97 L301.32,560.39 L309.18,561.00 L333.37,561.36 L351.51,561.00 L357.55,559.79 L369.64,558.58 L372.80,558.70 L374.40,556.20 L376.20,548.00 L376.90,541.00 L378.50,539.50 L380.80,541.00 L381.00,555.00 L381.60,555.20 L381.60,573.60 L382.60,574.50 L382.60,583.50 L383.40,580.80 L384.60,578.80 L387.20,577.00 L389.30,577.50 L391.80,580.60 L392.90,583.40 L390.80,585.40 L388.70,583.40 L385.70,585.40 L380.50,585.20 L380.30,575.20 L379.20,565.40 L377.50,566.50 L376.50,568.00 L375.00,566.50 L372.00,566.50 L369.64,566.20 L357.55,567.04 L345.46,567.65 L333.37,567.65 L321.28,567.65 L309.18,567.41 L299.51,567.04 L297.09,567.65 L291.05,568.25 L285.00,568.62 L250.46,568.25 L226.28,567.65 L190.00,567.04 L179.64,566.68 L167.55,566.20 L155.46,565.47 L143.37,564.99 L131.28,564.63 L119.18,563.78 L113.14,562.57 L107.09,561.84 L104.67,561.00 L104.43,585.18 L101.05,585.18 L101.29,561.00Z" fill="#0000ff" />
<rect x="486.98" y="581.20" width="8.22" height="2.47" fill="#ffa500" />
<rect x="494.58" y="577.91" width="293.32" height="6.17" fill="#ffa500" />
<path d="M101.92,709.29 L103.25,707.96 L104.98,709.95 L106.97,711.28 L114.95,708.62 L121.60,707.29 L134.90,705.30 L148.20,702.64 L161.51,700.64 L174.81,697.98 L188.11,695.99 L200.00,695.64 L213.30,694.98 L219.95,696.97 L226.60,696.97 L233.25,694.98 L239.90,695.37 L245.89,696.31 L250.54,693.65 L259.85,694.04 L266.51,693.25 L279.81,693.65 L286.46,695.64 L293.11,695.64 L298.43,693.65 L300.00,694.31 L313.30,694.98 L326.60,695.64 L339.90,697.64 L353.20,698.30 L366.51,702.29 L377.15,705.62 L377.81,713.60 L379.81,724.90 L380.47,735.54 L379.14,736.21 L377.15,728.89 L375.82,719.58 L371.83,716.92 L366.51,714.93 L353.20,710.94 L339.90,709.61 L326.60,707.61 L313.30,706.95 L300.00,706.28 L299.76,706.95 L293.11,708.94 L286.46,706.95 L279.81,706.28 L266.51,705.62 L253.20,706.28 L246.55,710.27 L243.89,708.28 L239.90,707.61 L235.91,710.27 L233.25,708.28 L226.60,708.94 L219.95,708.94 L213.30,707.61 L210.64,708.28 L200.00,706.28 L188.11,708.62 L174.81,709.95 L161.51,712.61 L148.20,714.61 L134.90,717.27 L121.60,719.93 L108.30,722.59 L104.98,723.92 L104.04,731.23 L103.25,735.89 L101.65,735.89 L101.38,727.24 L101.92,723.25Z" fill="none" stroke="#0000ff" stroke-width="1.6" stroke-linejoin="round" opacity="0.3"/>
<path d="M101.92,709.29 L103.25,707.96 L104.98,709.95 L106.97,711.28 L114.95,708.62 L121.60,707.29 L134.90,705.30 L148.20,702.64 L161.51,700.64 L174.81,697.98 L188.11,695.99 L200.00,695.64 L213.30,694.98 L219.95,696.97 L226.60,696.97 L233.25,694.98 L239.90,695.37 L245.89,696.31 L250.54,693.65 L259.85,694.04 L266.51,693.25 L279.81,693.65 L286.46,695.64 L293.11,695.64 L298.43,693.65 L300.00,694.31 L313.30,694.98 L326.60,695.64 L339.90,697.64 L353.20,698.30 L366.51,702.29 L377.15,705.62 L377.81,713.60 L379.81,724.90 L380.47,735.54 L379.14,736.21 L377.15,728.89 L375.82,719.58 L371.83,716.92 L366.51,714.93 L353.20,710.94 L339.90,709.61 L326.60,707.61 L313.30,706.95 L300.00,706.28 L299.76,706.95 L293.11,708.94 L286.46,706.95 L279.81,706.28 L266.51,705.62 L253.20,706.28 L246.55,710.27 L243.89,708.28 L239.90,707.61 L235.91,710.27 L233.25,708.28 L226.60,708.94 L219.95,708.94 L213.30,707.61 L210.64,708.28 L200.00,706.28 L188.11,708.62 L174.81,709.95 L161.51,712.61 L148.20,714.61 L134.90,717.27 L121.60,719.93 L108.30,722.59 L104.98,723.92 L104.04,731.23 L103.25,735.89 L101.65,735.89 L101.38,727.24 L101.92,723.25Z" fill="#0000ff" />
<rect x="94.39" y="785.14" width="14.39" height="2.06" fill="#0000ff" />
<rect x="141.67" y="785.14" width="2.06" height="2.06" fill="#0000ff" />
<rect x="198.20" y="785.14" width="2.06" height="2.06" fill="#0000ff" />
<rect x="253.36" y="785.14" width="4.11" height="2.06" fill="#0000ff" />
<rect x="310.92" y="785.14" width="4.11" height="2.06" fill="#0000ff" />
<rect x="367.45" y="785.14" width="4.11" height="2.06" fill="#0000ff" />
<rect x="378.14" y="785.14" width="16.44" height="2.06" fill="#0000ff" />
<rect x="486.90" y="749.20" width="8.40" height="2.60" fill="#ffa500" />
<rect x="773.80" y="749.20" width="13.90" height="2.60" fill="#ffa500" />
<path d="M495.30,704.68 L498.00,701.08 L506.00,700.06 L520.00,698.28 L522.00,698.63 L538.00,701.46 L555.00,704.46 L563.00,701.77 L577.00,697.06 L588.00,696.39 L604.00,695.09 L609.00,694.86 L620.00,694.34 L645.00,694.90 L673.00,692.68 L683.00,692.37 L689.00,692.18 L694.00,692.02 L705.00,693.56 L720.00,695.46 L730.00,694.12 L742.00,692.52 L748.00,694.52 L758.00,697.86 L767.00,696.70 L769.00,696.48 L773.80,704.24 L773.80,775.48 L769.00,774.97 L767.00,774.76 L758.00,773.81 L748.00,772.76 L742.00,772.43 L730.00,771.76 L720.00,771.33 L705.00,770.69 L694.00,770.22 L689.00,770.00 L683.00,769.72 L673.00,770.08 L645.00,771.10 L620.00,769.58 L609.00,770.07 L604.00,770.32 L588.00,771.12 L577.00,773.33 L563.00,776.14 L555.00,777.45 L538.00,780.24 L522.00,778.92 L520.00,778.52 L506.00,775.70 L498.00,776.85 L495.30,777.24Z" fill="#ffa500" opacity="0.22"/>
<path d="M495.30,706.86 L498.00,704.16 L506.00,703.40 L520.00,702.06 L522.00,702.31 L538.00,704.30 L555.00,706.42 L563.00,704.20 L577.00,700.32 L588.00,699.54 L604.00,697.77 L609.00,697.55 L620.00,697.08 L645.00,697.30 L673.00,695.96 L683.00,695.81 L689.00,695.72 L694.00,695.65 L705.00,696.89 L720.00,698.22 L730.00,697.50 L742.00,696.64 L748.00,698.21 L758.00,700.82 L767.00,700.05 L769.00,699.97 L773.80,705.98 L773.80,772.86 L769.00,772.33 L767.00,772.11 L758.00,771.12 L748.00,770.02 L742.00,769.59 L730.00,768.72 L720.00,768.33 L705.00,767.75 L694.00,767.32 L689.00,767.13 L683.00,766.84 L673.00,766.99 L645.00,767.40 L620.00,766.55 L609.00,767.05 L604.00,767.33 L588.00,768.24 L577.00,770.37 L563.00,773.08 L555.00,774.33 L538.00,776.98 L522.00,776.54 L520.00,776.13 L506.00,773.30 L498.00,773.96 L495.30,774.18Z" fill="#ffa500" opacity="0.22"/>
<path d="M495.30,709.04 L498.00,707.24 L506.00,706.73 L520.00,705.84 L522.00,705.99 L538.00,707.15 L555.00,708.38 L563.00,706.63 L577.00,703.58 L588.00,702.69 L604.00,700.45 L609.00,700.25 L620.00,699.82 L645.00,699.70 L673.00,699.24 L683.00,699.26 L689.00,699.27 L694.00,699.27 L705.00,700.23 L720.00,700.98 L730.00,700.88 L742.00,700.76 L748.00,701.89 L758.00,703.78 L767.00,703.40 L769.00,703.45 L773.80,707.72 L773.80,770.24 L769.00,769.69 L767.00,769.46 L758.00,768.43 L748.00,767.28 L742.00,766.75 L730.00,765.68 L720.00,765.33 L705.00,764.81 L694.00,764.43 L689.00,764.25 L683.00,763.96 L673.00,763.89 L645.00,763.70 L620.00,763.53 L609.00,764.03 L604.00,764.35 L588.00,765.36 L577.00,767.41 L563.00,770.02 L555.00,771.20 L538.00,773.72 L522.00,774.16 L520.00,773.75 L506.00,770.90 L498.00,771.06 L495.30,771.12Z" fill="#ffa500" opacity="0.22"/>
<path d="M495.30,711.22 L498.00,710.32 L506.00,710.07 L520.00,709.62 L522.00,709.66 L538.00,709.99 L555.00,710.34 L563.00,709.07 L577.00,706.84 L588.00,705.85 L604.00,703.12 L609.00,702.95 L620.00,702.55 L645.00,702.10 L673.00,702.52 L683.00,702.70 L689.00,702.81 L694.00,702.90 L705.00,703.56 L720.00,703.74 L730.00,704.26 L742.00,704.88 L748.00,705.58 L758.00,706.74 L767.00,706.75 L769.00,706.94 L773.80,709.46 L773.80,767.62 L769.00,767.05 L767.00,766.81 L758.00,765.73 L748.00,764.54 L742.00,763.91 L730.00,762.64 L720.00,762.33 L705.00,761.87 L694.00,761.53 L689.00,761.38 L683.00,761.08 L673.00,760.80 L645.00,760.00 L620.00,760.50 L609.00,761.02 L604.00,761.36 L588.00,762.48 L577.00,764.45 L563.00,766.96 L555.00,768.08 L538.00,770.46 L522.00,771.78 L520.00,771.37 L506.00,768.50 L498.00,768.17 L495.30,768.06Z" fill="#ffa500" opacity="0.22"/>
<path d="M495.30,713.40 L520.00,713.40 L555.00,712.30 L588.00,709.00 L604.00,705.80 L645.00,704.50 L673.00,705.80 L705.00,706.90 L720.00,706.50 L742.00,709.00 L767.00,710.10 L773.80,711.20 L773.80,765.00 L748.00,761.80 L730.00,759.60 L689.00,758.50 L645.00,756.30 L609.00,758.00 L588.00,759.60 L563.00,763.90 L538.00,767.20 L522.00,769.40 L506.00,766.10 L495.30,765.00Z" fill="#ffa500" />
<path d="M101.92,863.65 L103.25,862.32 L104.58,863.65 L105.37,872.29 L108.30,874.29 L110.96,875.62 L114.95,872.96 L118.94,871.63 L122.93,869.63 L126.92,868.97 L129.58,867.64 L131.58,868.97 L133.57,872.96 L136.23,869.63 L140.22,866.97 L145.54,864.98 L152.19,864.31 L157.52,865.64 L164.17,865.64 L169.49,867.64 L174.81,868.30 L188.11,868.30 L194.76,866.31 L201.41,864.98 L200.00,864.98 L202.66,866.97 L206.65,867.64 L210.64,867.64 L212.64,869.63 L213.30,873.62 L215.96,877.61 L219.95,882.93 L223.28,886.92 L225.27,893.57 L226.60,897.56 L227.93,898.23 L225.94,899.56 L222.61,899.56 L219.95,894.90 L215.96,888.25 L212.64,886.92 L209.98,881.60 L205.32,877.61 L200.00,876.95 L198.75,876.28 L193.43,879.61 L188.11,877.61 L174.81,876.95 L161.51,874.95 L150.86,874.95 L145.54,876.95 L137.56,878.28 L134.90,882.93 L130.91,881.60 L125.59,882.93 L121.60,882.93 L114.95,884.26 L110.96,886.26 L105.64,884.26 L103.65,885.59 L103.65,898.89 L100.99,898.89 L101.38,881.60 L101.92,880.27Z" fill="none" stroke="#0000ff" stroke-width="1.6" stroke-linejoin="round" opacity="0.3"/>
<path d="M101.92,863.65 L103.25,862.32 L104.58,863.65 L105.37,872.29 L108.30,874.29 L110.96,875.62 L114.95,872.96 L118.94,871.63 L122.93,869.63 L126.92,868.97 L129.58,867.64 L131.58,868.97 L133.57,872.96 L136.23,869.63 L140.22,866.97 L145.54,864.98 L152.19,864.31 L157.52,865.64 L164.17,865.64 L169.49,867.64 L174.81,868.30 L188.11,868.30 L194.76,866.31 L201.41,864.98 L200.00,864.98 L202.66,866.97 L206.65,867.64 L210.64,867.64 L212.64,869.63 L213.30,873.62 L215.96,877.61 L219.95,882.93 L223.28,886.92 L225.27,893.57 L226.60,897.56 L227.93,898.23 L225.94,899.56 L222.61,899.56 L219.95,894.90 L215.96,888.25 L212.64,886.92 L209.98,881.60 L205.32,877.61 L200.00,876.95 L198.75,876.28 L193.43,879.61 L188.11,877.61 L174.81,876.95 L161.51,874.95 L150.86,874.95 L145.54,876.95 L137.56,878.28 L134.90,882.93 L130.91,881.60 L125.59,882.93 L121.60,882.93 L114.95,884.26 L110.96,886.26 L105.64,884.26 L103.65,885.59 L103.65,898.89 L100.99,898.89 L101.38,881.60 L101.92,880.27Z" fill="#0000ff" />
<path d="M255.86,897.56 L259.85,894.90 L265.18,888.25 L270.50,881.60 L275.82,876.28 L279.81,873.62 L283.13,871.63 L287.79,874.95 L290.45,878.28 L293.11,885.59 L295.77,891.58 L300.00,887.59 L305.32,881.60 L310.64,877.61 L317.29,868.97 L323.94,868.30 L333.25,870.30 L338.57,873.62 L342.56,875.62 L353.20,874.95 L362.52,875.62 L369.17,876.95 L374.49,877.61 L378.48,876.28 L381.14,876.28 L381.80,878.94 L381.40,898.89 L379.14,898.23 L376.48,893.57 L373.82,888.25 L366.51,886.92 L362.52,884.26 L353.20,882.93 L346.55,883.60 L339.90,882.27 L335.91,880.27 L330.59,877.61 L323.94,875.62 L317.29,877.61 L310.64,885.59 L305.32,892.24 L300.00,897.56 L294.44,899.56 L291.78,896.23 L287.79,886.92 L285.13,884.26 L282.47,881.60 L278.48,883.60 L271.83,888.25 L266.51,896.23 L262.52,898.89 L256.53,899.56Z" fill="none" stroke="#0000ff" stroke-width="1.6" stroke-linejoin="round" opacity="0.3"/>
<path d="M255.86,897.56 L259.85,894.90 L265.18,888.25 L270.50,881.60 L275.82,876.28 L279.81,873.62 L283.13,871.63 L287.79,874.95 L290.45,878.28 L293.11,885.59 L295.77,891.58 L300.00,887.59 L305.32,881.60 L310.64,877.61 L317.29,868.97 L323.94,868.30 L333.25,870.30 L338.57,873.62 L342.56,875.62 L353.20,874.95 L362.52,875.62 L369.17,876.95 L374.49,877.61 L378.48,876.28 L381.14,876.28 L381.80,878.94 L381.40,898.89 L379.14,898.23 L376.48,893.57 L373.82,888.25 L366.51,886.92 L362.52,884.26 L353.20,882.93 L346.55,883.60 L339.90,882.27 L335.91,880.27 L330.59,877.61 L323.94,875.62 L317.29,877.61 L310.64,885.59 L305.32,892.24 L300.00,897.56 L294.44,899.56 L291.78,896.23 L287.79,886.92 L285.13,884.26 L282.47,881.60 L278.48,883.60 L271.83,888.25 L266.51,896.23 L262.52,898.89 L256.53,899.56Z" fill="#0000ff" />
<path d="M245.9,898.2 L247.2,896.9 L248.5,898.2 L247.2,899.5Z" fill="none" stroke="#0000ff" stroke-width="0.7" opacity="0.35"/>
<rect x="495.20" y="865.35" width="124.20" height="2.50" fill="#ffa500" />
<rect x="650.60" y="865.35" width="125.30" height="2.50" fill="#ffa500" />
<rect x="495.20" y="876.15" width="124.20" height="2.50" fill="#ffa500" />
<rect x="650.60" y="876.15" width="125.30" height="2.50" fill="#ffa500" />
<rect x="495.20" y="886.05" width="124.20" height="2.50" fill="#ffa500" />
<rect x="650.60" y="886.05" width="125.30" height="2.50" fill="#ffa500" />
<rect x="495.20" y="896.15" width="124.20" height="2.50" fill="#ffa500" />
<rect x="650.60" y="896.15" width="125.30" height="2.50" fill="#ffa500" />
<rect x="495.20" y="906.05" width="124.20" height="2.50" fill="#ffa500" />
<rect x="650.60" y="906.05" width="125.30" height="2.50" fill="#ffa500" />
<rect x="495.20" y="917.15" width="124.20" height="2.50" fill="#ffa500" />
<rect x="650.60" y="917.15" width="125.30" height="2.50" fill="#ffa500" />
<rect x="495.20" y="927.15" width="124.20" height="2.50" fill="#ffa500" />
<rect x="650.60" y="927.15" width="125.30" height="2.50" fill="#ffa500" />
<rect x="495.20" y="855.30" width="124.20" height="2.00" fill="#ffa500" opacity="0.35"/>
<rect x="650.60" y="855.30" width="125.30" height="2.00" fill="#ffa500" opacity="0.35"/>
<rect x="495.20" y="937.50" width="124.20" height="2.00" fill="#ffa500" opacity="0.35"/>
<rect x="650.60" y="937.50" width="125.30" height="2.00" fill="#ffa500" opacity="0.35"/>
<rect x="487.00" y="892.20" width="9.60" height="2.60" fill="#ffa500" />
<rect x="499.30" y="892.20" width="3.50" height="2.60" fill="#ffa500" />
<rect x="534.30" y="892.20" width="3.40" height="2.60" fill="#ffa500" />
<rect x="591.20" y="892.20" width="3.50" height="2.60" fill="#ffa500" />
<rect x="616.30" y="892.20" width="41.40" height="2.60" fill="#ffa500" />
<rect x="704.00" y="892.20" width="4.10" height="2.60" fill="#ffa500" />
<rect x="760.90" y="892.20" width="4.10" height="2.60" fill="#ffa500" />
<rect x="773.30" y="892.20" width="14.60" height="2.60" fill="#ffa500" />
<path d="M169.10,531.30 L170.40,530.00 L171.70,531.30 L170.40,532.60Z" fill="none" stroke="#0000ff" stroke-width="0.7" opacity="0.32"/>
<path d="M169.10,540.30 L170.40,539.00 L171.70,540.30 L170.40,541.60Z" fill="none" stroke="#0000ff" stroke-width="0.7" opacity="0.32"/>
<path d="M169.10,547.30 L170.40,546.00 L171.70,547.30 L170.40,548.60Z" fill="none" stroke="#0000ff" stroke-width="0.7" opacity="0.32"/>
<path d="M169.10,551.40 L170.40,550.10 L171.70,551.40 L170.40,552.70Z" fill="none" stroke="#0000ff" stroke-width="0.7" opacity="0.32"/>
<path d="M169.10,554.10 L170.40,552.80 L171.70,554.10 L170.40,555.40Z" fill="none" stroke="#0000ff" stroke-width="0.7" opacity="0.32"/>
<path d="M169.10,557.20 L170.40,555.90 L171.70,557.20 L170.40,558.50Z" fill="none" stroke="#0000ff" stroke-width="0.7" opacity="0.32"/>
<path d="M223.20,537.30 L224.50,536.00 L225.80,537.30 L224.50,538.60Z" fill="none" stroke="#0000ff" stroke-width="0.7" opacity="0.32"/>
<path d="M223.20,546.70 L224.50,545.40 L225.80,546.70 L224.50,548.00Z" fill="none" stroke="#0000ff" stroke-width="0.7" opacity="0.32"/>
<path d="M223.20,554.10 L224.50,552.80 L225.80,554.10 L224.50,555.40Z" fill="none" stroke="#0000ff" stroke-width="0.7" opacity="0.32"/>
<path d="M223.20,556.40 L224.50,555.10 L225.80,556.40 L224.50,557.70Z" fill="none" stroke="#0000ff" stroke-width="0.7" opacity="0.32"/>
<path d="M223.20,558.00 L224.50,556.70 L225.80,558.00 L224.50,559.30Z" fill="none" stroke="#0000ff" stroke-width="0.7" opacity="0.32"/>
<path d="M276.20,552.00 L277.50,550.70 L278.80,552.00 L277.50,553.30Z" fill="none" stroke="#0000ff" stroke-width="0.7" opacity="0.32"/>
<path d="M276.20,556.40 L277.50,555.10 L278.80,556.40 L277.50,557.70Z" fill="none" stroke="#0000ff" stroke-width="0.7" opacity="0.32"/>
<path d="M276.20,558.50 L277.50,557.20 L278.80,558.50 L277.50,559.80Z" fill="none" stroke="#0000ff" stroke-width="0.7" opacity="0.32"/>
<path d="M276.20,560.40 L277.50,559.10 L278.80,560.40 L277.50,561.70Z" fill="none" stroke="#0000ff" stroke-width="0.7" opacity="0.32"/>
<path d="M276.20,570.60 L277.50,569.30 L278.80,570.60 L277.50,571.90Z" fill="none" stroke="#0000ff" stroke-width="0.7" opacity="0.32"/>
<path d="M96.70,585.30 L98.00,584.00 L99.30,585.30 L98.00,586.60Z" fill="none" stroke="#0000ff" stroke-width="0.7" opacity="0.32"/>
<path d="M669.20,539.50 L670.50,538.20 L671.80,539.50 L670.50,540.80Z" fill="none" stroke="#ffa500" stroke-width="0.7" opacity="0.4"/>
<path d="M669.20,549.80 L670.50,548.50 L671.80,549.80 L670.50,551.10Z" fill="none" stroke="#ffa500" stroke-width="0.7" opacity="0.4"/>
<path d="M669.20,556.00 L670.50,554.70 L671.80,556.00 L670.50,557.30Z" fill="none" stroke="#ffa500" stroke-width="0.7" opacity="0.4"/>
<path d="M669.20,559.00 L670.50,557.70 L671.80,559.00 L670.50,560.30Z" fill="none" stroke="#ffa500" stroke-width="0.7" opacity="0.4"/>
<path d="M669.20,563.00 L670.50,561.70 L671.80,563.00 L670.50,564.30Z" fill="none" stroke="#ffa500" stroke-width="0.7" opacity="0.4"/>
<path d="M669.20,566.00 L670.50,564.70 L671.80,566.00 L670.50,567.30Z" fill="none" stroke="#ffa500" stroke-width="0.7" opacity="0.4"/>
<path d="M669.20,569.00 L670.50,567.70 L671.80,569.00 L670.50,570.30Z" fill="none" stroke="#ffa500" stroke-width="0.7" opacity="0.4"/>
<path d="M669.20,571.00 L670.50,569.70 L671.80,571.00 L670.50,572.30Z" fill="none" stroke="#ffa500" stroke-width="0.7" opacity="0.4"/>
<path d="M669.20,586.00 L670.50,584.70 L671.80,586.00 L670.50,587.30Z" fill="none" stroke="#ffa500" stroke-width="0.7" opacity="0.4"/>
<path d="M669.20,587.50 L670.50,586.20 L671.80,587.50 L670.50,588.80Z" fill="none" stroke="#ffa500" stroke-width="0.7" opacity="0.4"/>
<path d="M669.20,596.00 L670.50,594.70 L671.80,596.00 L670.50,597.30Z" fill="none" stroke="#ffa500" stroke-width="0.7" opacity="0.4"/>
<path d="M669.20,612.40 L670.50,611.10 L671.80,612.40 L670.50,613.70Z" fill="none" stroke="#ffa500" stroke-width="0.7" opacity="0.4"/>
<path d="M669.80,572.00 L670.20,562.00 L670.80,562.00 L671.20,572.00Z" fill="#ffa500" opacity="0.5"/>
<path d="M562.20,562.30 L563.50,561.00 L564.80,562.30 L563.50,563.60Z" fill="none" stroke="#ffa500" stroke-width="0.7" opacity="0.35"/>
<path d="M562.20,588.50 L563.50,587.20 L564.80,588.50 L563.50,589.80Z" fill="none" stroke="#ffa500" stroke-width="0.7" opacity="0.35"/>
<path d="M562.20,592.50 L563.50,591.20 L564.80,592.50 L563.50,593.80Z" fill="none" stroke="#ffa500" stroke-width="0.7" opacity="0.35"/>
<path d="M562.20,617.40 L563.50,616.10 L564.80,617.40 L563.50,618.70Z" fill="none" stroke="#ffa500" stroke-width="0.7" opacity="0.35"/>
</g>
<g id="frames">
<rect x="80.5" y="35.5" width="328.0" height="103.0" fill="none" stroke="#000" stroke-width="1.111" stroke-linejoin="miter"/>
<line x1="85.5" y1="138.5" x2="85.5" y2="143.36" stroke="#000" stroke-width="1.111"/>
<text x="85.50" y="158.80" font-size="14.72" text-anchor="middle" textLength="40.03" lengthAdjust="spacingAndGlyphs"  fill="#000">21:00</text>
<line x1="114.5" y1="138.5" x2="114.5" y2="143.36" stroke="#000" stroke-width="1.111"/>
<text x="114.50" y="158.80" font-size="14.72" text-anchor="middle" textLength="40.03" lengthAdjust="spacingAndGlyphs"  fill="#000">22:00</text>
<line x1="142.5" y1="138.5" x2="142.5" y2="143.36" stroke="#000" stroke-width="1.111"/>
<text x="142.50" y="158.80" font-size="14.72" text-anchor="middle" textLength="40.03" lengthAdjust="spacingAndGlyphs"  fill="#000">23:00</text>
<line x1="170.5" y1="138.5" x2="170.5" y2="143.36" stroke="#000" stroke-width="1.111"/>
<text x="170.50" y="158.80" font-size="14.72" text-anchor="middle" textLength="40.03" lengthAdjust="spacingAndGlyphs"  fill="#000">00:00</text>
<line x1="199.5" y1="138.5" x2="199.5" y2="143.36" stroke="#000" stroke-width="1.111"/>
<text x="199.50" y="158.80" font-size="14.72" text-anchor="middle" textLength="40.03" lengthAdjust="spacingAndGlyphs"  fill="#000">01:00</text>
<line x1="227.5" y1="138.5" x2="227.5" y2="143.36" stroke="#000" stroke-width="1.111"/>
<text x="227.50" y="158.80" font-size="14.72" text-anchor="middle" textLength="40.03" lengthAdjust="spacingAndGlyphs"  fill="#000">02:00</text>
<line x1="256.5" y1="138.5" x2="256.5" y2="143.36" stroke="#000" stroke-width="1.111"/>
<text x="256.50" y="158.80" font-size="14.72" text-anchor="middle" textLength="40.03" lengthAdjust="spacingAndGlyphs"  fill="#000">03:00</text>
<line x1="284.5" y1="138.5" x2="284.5" y2="143.36" stroke="#000" stroke-width="1.111"/>
<text x="284.50" y="158.80" font-size="14.72" text-anchor="middle" textLength="40.03" lengthAdjust="spacingAndGlyphs"  fill="#000">04:00</text>
<line x1="313.5" y1="138.5" x2="313.5" y2="143.36" stroke="#000" stroke-width="1.111"/>
<text x="313.50" y="158.80" font-size="14.72" text-anchor="middle" textLength="40.03" lengthAdjust="spacingAndGlyphs"  fill="#000">05:00</text>
<line x1="341.5" y1="138.5" x2="341.5" y2="143.36" stroke="#000" stroke-width="1.111"/>
<text x="341.50" y="158.80" font-size="14.72" text-anchor="middle" textLength="40.03" lengthAdjust="spacingAndGlyphs"  fill="#000">06:00</text>
<line x1="369.5" y1="138.5" x2="369.5" y2="143.36" stroke="#000" stroke-width="1.111"/>
<text x="369.50" y="158.80" font-size="14.72" text-anchor="middle" textLength="40.03" lengthAdjust="spacingAndGlyphs"  fill="#000">07:00</text>
<line x1="398.5" y1="138.5" x2="398.5" y2="143.36" stroke="#000" stroke-width="1.111"/>
<text x="398.50" y="158.80" font-size="14.72" text-anchor="middle" textLength="40.03" lengthAdjust="spacingAndGlyphs"  fill="#000">08:00</text>
<line x1="75.64" y1="121.5" x2="80.5" y2="121.5" stroke="#000" stroke-width="1.111"/>
<text x="69.78" y="125.50" font-size="14.72" text-anchor="end" textLength="17.67" lengthAdjust="spacingAndGlyphs"  fill="#000">20</text>
<line x1="75.64" y1="86.5" x2="80.5" y2="86.5" stroke="#000" stroke-width="1.111"/>
<text x="69.78" y="90.50" font-size="14.72" text-anchor="end" textLength="17.67" lengthAdjust="spacingAndGlyphs"  fill="#000">40</text>
<line x1="75.64" y1="52.5" x2="80.5" y2="52.5" stroke="#000" stroke-width="1.111"/>
<text x="69.78" y="56.50" font-size="14.72" text-anchor="end" textLength="17.67" lengthAdjust="spacingAndGlyphs"  fill="#000">60</text>
<text x="244.50" y="27.00" font-size="16.33" text-anchor="middle" textLength="332.82" lengthAdjust="spacingAndGlyphs"  fill="#000">NoRP 1GHz Stokes-I on 2010-10-31[JST]</text>
<text x="42.90" y="87.00" font-size="14.72" text-anchor="middle" textLength="71.09" lengthAdjust="spacingAndGlyphs" transform="rotate(-90 42.90 87.00)" fill="#000">Flux [SFU]</text>
<rect x="473.5" y="35.5" width="328.0" height="103.0" fill="none" stroke="#000" stroke-width="1.111" stroke-linejoin="miter"/>
<line x1="478.5" y1="138.5" x2="478.5" y2="143.36" stroke="#000" stroke-width="1.111"/>
<text x="478.50" y="158.80" font-size="14.72" text-anchor="middle" textLength="40.03" lengthAdjust="spacingAndGlyphs"  fill="#000">21:00</text>
<line x1="507.5" y1="138.5" x2="507.5" y2="143.36" stroke="#000" stroke-width="1.111"/>
<text x="507.50" y="158.80" font-size="14.72" text-anchor="middle" textLength="40.03" lengthAdjust="spacingAndGlyphs"  fill="#000">22:00</text>
<line x1="535.5" y1="138.5" x2="535.5" y2="143.36" stroke="#000" stroke-width="1.111"/>
<text x="535.50" y="158.80" font-size="14.72" text-anchor="middle" textLength="40.03" lengthAdjust="spacingAndGlyphs"  fill="#000">23:00</text>
<line x1="563.5" y1="138.5" x2="563.5" y2="143.36" stroke="#000" stroke-width="1.111"/>
<text x="563.50" y="158.80" font-size="14.72" text-anchor="middle" textLength="40.03" lengthAdjust="spacingAndGlyphs"  fill="#000">00:00</text>
<line x1="592.5" y1="138.5" x2="592.5" y2="143.36" stroke="#000" stroke-width="1.111"/>
<text x="592.50" y="158.80" font-size="14.72" text-anchor="middle" textLength="40.03" lengthAdjust="spacingAndGlyphs"  fill="#000">01:00</text>
<line x1="620.5" y1="138.5" x2="620.5" y2="143.36" stroke="#000" stroke-width="1.111"/>
<text x="620.50" y="158.80" font-size="14.72" text-anchor="middle" textLength="40.03" lengthAdjust="spacingAndGlyphs"  fill="#000">02:00</text>
<line x1="649.5" y1="138.5" x2="649.5" y2="143.36" stroke="#000" stroke-width="1.111"/>
<text x="649.50" y="158.80" font-size="14.72" text-anchor="middle" textLength="40.03" lengthAdjust="spacingAndGlyphs"  fill="#000">03:00</text>
<line x1="677.5" y1="138.5" x2="677.5" y2="143.36" stroke="#000" stroke-width="1.111"/>
<text x="677.50" y="158.80" font-size="14.72" text-anchor="middle" textLength="40.03" lengthAdjust="spacingAndGlyphs"  fill="#000">04:00</text>
<line x1="706.5" y1="138.5" x2="706.5" y2="143.36" stroke="#000" stroke-width="1.111"/>
<text x="706.50" y="158.80" font-size="14.72" text-anchor="middle" textLength="40.03" lengthAdjust="spacingAndGlyphs"  fill="#000">05:00</text>
<line x1="734.5" y1="138.5" x2="734.5" y2="143.36" stroke="#000" stroke-width="1.111"/>
<text x="734.50" y="158.80" font-size="14.72" text-anchor="middle" textLength="40.03" lengthAdjust="spacingAndGlyphs"  fill="#000">06:00</text>
<line x1="762.5" y1="138.5" x2="762.5" y2="143.36" stroke="#000" stroke-width="1.111"/>
<text x="762.50" y="158.80" font-size="14.72" text-anchor="middle" textLength="40.03" lengthAdjust="spacingAndGlyphs"  fill="#000">07:00</text>
<line x1="791.5" y1="138.5" x2="791.5" y2="143.36" stroke="#000" stroke-width="1.111"/>
<text x="791.50" y="158.80" font-size="14.72" text-anchor="middle" textLength="40.03" lengthAdjust="spacingAndGlyphs"  fill="#000">08:00</text>
<line x1="468.64" y1="106.5" x2="473.5" y2="106.5" stroke="#000" stroke-width="1.111"/>
<text x="462.78" y="110.50" font-size="14.72" text-anchor="end" textLength="8.84" lengthAdjust="spacingAndGlyphs"  fill="#000">0</text>
<line x1="468.64" y1="63.5" x2="473.5" y2="63.5" stroke="#000" stroke-width="1.111"/>
<text x="462.78" y="67.50" font-size="14.72" text-anchor="end" textLength="8.84" lengthAdjust="spacingAndGlyphs"  fill="#000">1</text>
<text x="637.50" y="27.00" font-size="16.33" text-anchor="middle" textLength="171.44" lengthAdjust="spacingAndGlyphs"  fill="#000">NoRP 1GHz Stokes-V</text>
<rect x="80.5" y="197.5" width="328.0" height="103.0" fill="none" stroke="#000" stroke-width="1.111" stroke-linejoin="miter"/>
<line x1="85.5" y1="300.5" x2="85.5" y2="305.36" stroke="#000" stroke-width="1.111"/>
<text x="85.50" y="320.80" font-size="14.72" text-anchor="middle" textLength="40.03" lengthAdjust="spacingAndGlyphs"  fill="#000">21:00</text>
<line x1="114.5" y1="300.5" x2="114.5" y2="305.36" stroke="#000" stroke-width="1.111"/>
<text x="114.50" y="320.80" font-size="14.72" text-anchor="middle" textLength="40.03" lengthAdjust="spacingAndGlyphs"  fill="#000">22:00</text>
<line x1="142.5" y1="300.5" x2="142.5" y2="305.36" stroke="#000" stroke-width="1.111"/>
<text x="142.50" y="320.80" font-size="14.72" text-anchor="middle" textLength="40.03" lengthAdjust="spacingAndGlyphs"  fill="#000">23:00</text>
<line x1="170.5" y1="300.5" x2="170.5" y2="305.36" stroke="#000" stroke-width="1.111"/>
<text x="170.50" y="320.80" font-size="14.72" text-anchor="middle" textLength="40.03" lengthAdjust="spacingAndGlyphs"  fill="#000">00:00</text>
<line x1="199.5" y1="300.5" x2="199.5" y2="305.36" stroke="#000" stroke-width="1.111"/>
<text x="199.50" y="320.80" font-size="14.72" text-anchor="middle" textLength="40.03" lengthAdjust="spacingAndGlyphs"  fill="#000">01:00</text>
<line x1="227.5" y1="300.5" x2="227.5" y2="305.36" stroke="#000" stroke-width="1.111"/>
<text x="227.50" y="320.80" font-size="14.72" text-anchor="middle" textLength="40.03" lengthAdjust="spacingAndGlyphs"  fill="#000">02:00</text>
<line x1="256.5" y1="300.5" x2="256.5" y2="305.36" stroke="#000" stroke-width="1.111"/>
<text x="256.50" y="320.80" font-size="14.72" text-anchor="middle" textLength="40.03" lengthAdjust="spacingAndGlyphs"  fill="#000">03:00</text>
<line x1="284.5" y1="300.5" x2="284.5" y2="305.36" stroke="#000" stroke-width="1.111"/>
<text x="284.50" y="320.80" font-size="14.72" text-anchor="middle" textLength="40.03" lengthAdjust="spacingAndGlyphs"  fill="#000">04:00</text>
<line x1="313.5" y1="300.5" x2="313.5" y2="305.36" stroke="#000" stroke-width="1.111"/>
<text x="313.50" y="320.80" font-size="14.72" text-anchor="middle" textLength="40.03" lengthAdjust="spacingAndGlyphs"  fill="#000">05:00</text>
<line x1="341.5" y1="300.5" x2="341.5" y2="305.36" stroke="#000" stroke-width="1.111"/>
<text x="341.50" y="320.80" font-size="14.72" text-anchor="middle" textLength="40.03" lengthAdjust="spacingAndGlyphs"  fill="#000">06:00</text>
<line x1="369.5" y1="300.5" x2="369.5" y2="305.36" stroke="#000" stroke-width="1.111"/>
<text x="369.50" y="320.80" font-size="14.72" text-anchor="middle" textLength="40.03" lengthAdjust="spacingAndGlyphs"  fill="#000">07:00</text>
<line x1="398.5" y1="300.5" x2="398.5" y2="305.36" stroke="#000" stroke-width="1.111"/>
<text x="398.50" y="320.80" font-size="14.72" text-anchor="middle" textLength="40.03" lengthAdjust="spacingAndGlyphs"  fill="#000">08:00</text>
<line x1="75.64" y1="274.5" x2="80.5" y2="274.5" stroke="#000" stroke-width="1.111"/>
<text x="69.78" y="278.50" font-size="14.72" text-anchor="end" textLength="17.67" lengthAdjust="spacingAndGlyphs"  fill="#000">50</text>
<line x1="75.64" y1="240.5" x2="80.5" y2="240.5" stroke="#000" stroke-width="1.111"/>
<text x="69.78" y="244.50" font-size="14.72" text-anchor="end" textLength="26.51" lengthAdjust="spacingAndGlyphs"  fill="#000">100</text>
<line x1="75.64" y1="207.5" x2="80.5" y2="207.5" stroke="#000" stroke-width="1.111"/>
<text x="69.78" y="211.50" font-size="14.72" text-anchor="end" textLength="26.51" lengthAdjust="spacingAndGlyphs"  fill="#000">150</text>
<text x="244.50" y="189.00" font-size="16.33" text-anchor="middle" textLength="165.93" lengthAdjust="spacingAndGlyphs"  fill="#000">NoRP 2GHz Stokes-I</text>
<text x="33.50" y="249.00" font-size="14.72" text-anchor="middle" textLength="71.09" lengthAdjust="spacingAndGlyphs" transform="rotate(-90 33.50 249.00)" fill="#000">Flux [SFU]</text>
<rect x="473.5" y="197.5" width="328.0" height="103.0" fill="none" stroke="#000" stroke-width="1.111" stroke-linejoin="miter"/>
<line x1="478.5" y1="300.5" x2="478.5" y2="305.36" stroke="#000" stroke-width="1.111"/>
<text x="478.50" y="320.80" font-size="14.72" text-anchor="middle" textLength="40.03" lengthAdjust="spacingAndGlyphs"  fill="#000">21:00</text>
<line x1="507.5" y1="300.5" x2="507.5" y2="305.36" stroke="#000" stroke-width="1.111"/>
<text x="507.50" y="320.80" font-size="14.72" text-anchor="middle" textLength="40.03" lengthAdjust="spacingAndGlyphs"  fill="#000">22:00</text>
<line x1="535.5" y1="300.5" x2="535.5" y2="305.36" stroke="#000" stroke-width="1.111"/>
<text x="535.50" y="320.80" font-size="14.72" text-anchor="middle" textLength="40.03" lengthAdjust="spacingAndGlyphs"  fill="#000">23:00</text>
<line x1="563.5" y1="300.5" x2="563.5" y2="305.36" stroke="#000" stroke-width="1.111"/>
<text x="563.50" y="320.80" font-size="14.72" text-anchor="middle" textLength="40.03" lengthAdjust="spacingAndGlyphs"  fill="#000">00:00</text>
<line x1="592.5" y1="300.5" x2="592.5" y2="305.36" stroke="#000" stroke-width="1.111"/>
<text x="592.50" y="320.80" font-size="14.72" text-anchor="middle" textLength="40.03" lengthAdjust="spacingAndGlyphs"  fill="#000">01:00</text>
<line x1="620.5" y1="300.5" x2="620.5" y2="305.36" stroke="#000" stroke-width="1.111"/>
<text x="620.50" y="320.80" font-size="14.72" text-anchor="middle" textLength="40.03" lengthAdjust="spacingAndGlyphs"  fill="#000">02:00</text>
<line x1="649.5" y1="300.5" x2="649.5" y2="305.36" stroke="#000" stroke-width="1.111"/>
<text x="649.50" y="320.80" font-size="14.72" text-anchor="middle" textLength="40.03" lengthAdjust="spacingAndGlyphs"  fill="#000">03:00</text>
<line x1="677.5" y1="300.5" x2="677.5" y2="305.36" stroke="#000" stroke-width="1.111"/>
<text x="677.50" y="320.80" font-size="14.72" text-anchor="middle" textLength="40.03" lengthAdjust="spacingAndGlyphs"  fill="#000">04:00</text>
<line x1="706.5" y1="300.5" x2="706.5" y2="305.36" stroke="#000" stroke-width="1.111"/>
<text x="706.50" y="320.80" font-size="14.72" text-anchor="middle" textLength="40.03" lengthAdjust="spacingAndGlyphs"  fill="#000">05:00</text>
<line x1="734.5" y1="300.5" x2="734.5" y2="305.36" stroke="#000" stroke-width="1.111"/>
<text x="734.50" y="320.80" font-size="14.72" text-anchor="middle" textLength="40.03" lengthAdjust="spacingAndGlyphs"  fill="#000">06:00</text>
<line x1="762.5" y1="300.5" x2="762.5" y2="305.36" stroke="#000" stroke-width="1.111"/>
<text x="762.50" y="320.80" font-size="14.72" text-anchor="middle" textLength="40.03" lengthAdjust="spacingAndGlyphs"  fill="#000">07:00</text>
<line x1="791.5" y1="300.5" x2="791.5" y2="305.36" stroke="#000" stroke-width="1.111"/>
<text x="791.50" y="320.80" font-size="14.72" text-anchor="middle" textLength="40.03" lengthAdjust="spacingAndGlyphs"  fill="#000">08:00</text>
<line x1="468.64" y1="278.5" x2="473.5" y2="278.5" stroke="#000" stroke-width="1.111"/>
<text x="462.78" y="282.50" font-size="14.72" text-anchor="end" textLength="29.31" lengthAdjust="spacingAndGlyphs"  fill="#000">−10</text>
<line x1="468.64" y1="239.5" x2="473.5" y2="239.5" stroke="#000" stroke-width="1.111"/>
<text x="462.78" y="243.50" font-size="14.72" text-anchor="end" textLength="8.84" lengthAdjust="spacingAndGlyphs"  fill="#000">0</text>
<line x1="468.64" y1="200.5" x2="473.5" y2="200.5" stroke="#000" stroke-width="1.111"/>
<text x="462.78" y="204.50" font-size="14.72" text-anchor="end" textLength="17.67" lengthAdjust="spacingAndGlyphs"  fill="#000">10</text>
<text x="637.50" y="189.00" font-size="16.33" text-anchor="middle" textLength="171.44" lengthAdjust="spacingAndGlyphs"  fill="#000">NoRP 2GHz Stokes-V</text>
<rect x="80.5" y="359.5" width="328.0" height="103.0" fill="none" stroke="#000" stroke-width="1.111" stroke-linejoin="miter"/>
<line x1="85.5" y1="462.5" x2="85.5" y2="467.36" stroke="#000" stroke-width="1.111"/>
<text x="85.50" y="482.80" font-size="14.72" text-anchor="middle" textLength="40.03" lengthAdjust="spacingAndGlyphs"  fill="#000">21:00</text>
<line x1="114.5" y1="462.5" x2="114.5" y2="467.36" stroke="#000" stroke-width="1.111"/>
<text x="114.50" y="482.80" font-size="14.72" text-anchor="middle" textLength="40.03" lengthAdjust="spacingAndGlyphs"  fill="#000">22:00</text>
<line x1="142.5" y1="462.5" x2="142.5" y2="467.36" stroke="#000" stroke-width="1.111"/>
<text x="142.50" y="482.80" font-size="14.72" text-anchor="middle" textLength="40.03" lengthAdjust="spacingAndGlyphs"  fill="#000">23:00</text>
<line x1="170.5" y1="462.5" x2="170.5" y2="467.36" stroke="#000" stroke-width="1.111"/>
<text x="170.50" y="482.80" font-size="14.72" text-anchor="middle" textLength="40.03" lengthAdjust="spacingAndGlyphs"  fill="#000">00:00</text>
<line x1="199.5" y1="462.5" x2="199.5" y2="467.36" stroke="#000" stroke-width="1.111"/>
<text x="199.50" y="482.80" font-size="14.72" text-anchor="middle" textLength="40.03" lengthAdjust="spacingAndGlyphs"  fill="#000">01:00</text>
<line x1="227.5" y1="462.5" x2="227.5" y2="467.36" stroke="#000" stroke-width="1.111"/>
<text x="227.50" y="482.80" font-size="14.72" text-anchor="middle" textLength="40.03" lengthAdjust="spacingAndGlyphs"  fill="#000">02:00</text>
<line x1="256.5" y1="462.5" x2="256.5" y2="467.36" stroke="#000" stroke-width="1.111"/>
<text x="256.50" y="482.80" font-size="14.72" text-anchor="middle" textLength="40.03" lengthAdjust="spacingAndGlyphs"  fill="#000">03:00</text>
<line x1="284.5" y1="462.5" x2="284.5" y2="467.36" stroke="#000" stroke-width="1.111"/>
<text x="284.50" y="482.80" font-size="14.72" text-anchor="middle" textLength="40.03" lengthAdjust="spacingAndGlyphs"  fill="#000">04:00</text>
<line x1="313.5" y1="462.5" x2="313.5" y2="467.36" stroke="#000" stroke-width="1.111"/>
<text x="313.50" y="482.80" font-size="14.72" text-anchor="middle" textLength="40.03" lengthAdjust="spacingAndGlyphs"  fill="#000">05:00</text>
<line x1="341.5" y1="462.5" x2="341.5" y2="467.36" stroke="#000" stroke-width="1.111"/>
<text x="341.50" y="482.80" font-size="14.72" text-anchor="middle" textLength="40.03" lengthAdjust="spacingAndGlyphs"  fill="#000">06:00</text>
<line x1="369.5" y1="462.5" x2="369.5" y2="467.36" stroke="#000" stroke-width="1.111"/>
<text x="369.50" y="482.80" font-size="14.72" text-anchor="middle" textLength="40.03" lengthAdjust="spacingAndGlyphs"  fill="#000">07:00</text>
<line x1="398.5" y1="462.5" x2="398.5" y2="467.36" stroke="#000" stroke-width="1.111"/>
<text x="398.50" y="482.80" font-size="14.72" text-anchor="middle" textLength="40.03" lengthAdjust="spacingAndGlyphs"  fill="#000">08:00</text>
<line x1="75.64" y1="429.5" x2="80.5" y2="429.5" stroke="#000" stroke-width="1.111"/>
<text x="69.78" y="433.50" font-size="14.72" text-anchor="end" textLength="17.67" lengthAdjust="spacingAndGlyphs"  fill="#000">50</text>
<line x1="75.64" y1="388.5" x2="80.5" y2="388.5" stroke="#000" stroke-width="1.111"/>
<text x="69.78" y="392.50" font-size="14.72" text-anchor="end" textLength="26.51" lengthAdjust="spacingAndGlyphs"  fill="#000">100</text>
<text x="244.50" y="351.00" font-size="16.33" text-anchor="middle" textLength="192.43" lengthAdjust="spacingAndGlyphs"  fill="#000">NoRP 3.75GHz Stokes-I</text>
<text x="33.50" y="411.00" font-size="14.72" text-anchor="middle" textLength="71.09" lengthAdjust="spacingAndGlyphs" transform="rotate(-90 33.50 411.00)" fill="#000">Flux [SFU]</text>
<rect x="473.5" y="359.5" width="328.0" height="103.0" fill="none" stroke="#000" stroke-width="1.111" stroke-linejoin="miter"/>
<line x1="478.5" y1="462.5" x2="478.5" y2="467.36" stroke="#000" stroke-width="1.111"/>
<text x="478.50" y="482.80" font-size="14.72" text-anchor="middle" textLength="40.03" lengthAdjust="spacingAndGlyphs"  fill="#000">21:00</text>
<line x1="507.5" y1="462.5" x2="507.5" y2="467.36" stroke="#000" stroke-width="1.111"/>
<text x="507.50" y="482.80" font-size="14.72" text-anchor="middle" textLength="40.03" lengthAdjust="spacingAndGlyphs"  fill="#000">22:00</text>
<line x1="535.5" y1="462.5" x2="535.5" y2="467.36" stroke="#000" stroke-width="1.111"/>
<text x="535.50" y="482.80" font-size="14.72" text-anchor="middle" textLength="40.03" lengthAdjust="spacingAndGlyphs"  fill="#000">23:00</text>
<line x1="563.5" y1="462.5" x2="563.5" y2="467.36" stroke="#000" stroke-width="1.111"/>
<text x="563.50" y="482.80" font-size="14.72" text-anchor="middle" textLength="40.03" lengthAdjust="spacingAndGlyphs"  fill="#000">00:00</text>
<line x1="592.5" y1="462.5" x2="592.5" y2="467.36" stroke="#000" stroke-width="1.111"/>
<text x="592.50" y="482.80" font-size="14.72" text-anchor="middle" textLength="40.03" lengthAdjust="spacingAndGlyphs"  fill="#000">01:00</text>
<line x1="620.5" y1="462.5" x2="620.5" y2="467.36" stroke="#000" stroke-width="1.111"/>
<text x="620.50" y="482.80" font-size="14.72" text-anchor="middle" textLength="40.03" lengthAdjust="spacingAndGlyphs"  fill="#000">02:00</text>
<line x1="649.5" y1="462.5" x2="649.5" y2="467.36" stroke="#000" stroke-width="1.111"/>
<text x="649.50" y="482.80" font-size="14.72" text-anchor="middle" textLength="40.03" lengthAdjust="spacingAndGlyphs"  fill="#000">03:00</text>
<line x1="677.5" y1="462.5" x2="677.5" y2="467.36" stroke="#000" stroke-width="1.111"/>
<text x="677.50" y="482.80" font-size="14.72" text-anchor="middle" textLength="40.03" lengthAdjust="spacingAndGlyphs"  fill="#000">04:00</text>
<line x1="706.5" y1="462.5" x2="706.5" y2="467.36" stroke="#000" stroke-width="1.111"/>
<text x="706.50" y="482.80" font-size="14.72" text-anchor="middle" textLength="40.03" lengthAdjust="spacingAndGlyphs"  fill="#000">05:00</text>
<line x1="734.5" y1="462.5" x2="734.5" y2="467.36" stroke="#000" stroke-width="1.111"/>
<text x="734.50" y="482.80" font-size="14.72" text-anchor="middle" textLength="40.03" lengthAdjust="spacingAndGlyphs"  fill="#000">06:00</text>
<line x1="762.5" y1="462.5" x2="762.5" y2="467.36" stroke="#000" stroke-width="1.111"/>
<text x="762.50" y="482.80" font-size="14.72" text-anchor="middle" textLength="40.03" lengthAdjust="spacingAndGlyphs"  fill="#000">07:00</text>
<line x1="791.5" y1="462.5" x2="791.5" y2="467.36" stroke="#000" stroke-width="1.111"/>
<text x="791.50" y="482.80" font-size="14.72" text-anchor="middle" textLength="40.03" lengthAdjust="spacingAndGlyphs"  fill="#000">08:00</text>
<line x1="468.64" y1="451.5" x2="473.5" y2="451.5" stroke="#000" stroke-width="1.111"/>
<text x="462.78" y="455.50" font-size="14.72" text-anchor="end" textLength="20.47" lengthAdjust="spacingAndGlyphs"  fill="#000">−5</text>
<line x1="468.64" y1="407.5" x2="473.5" y2="407.5" stroke="#000" stroke-width="1.111"/>
<text x="462.78" y="411.50" font-size="14.72" text-anchor="end" textLength="8.84" lengthAdjust="spacingAndGlyphs"  fill="#000">0</text>
<line x1="468.64" y1="363.5" x2="473.5" y2="363.5" stroke="#000" stroke-width="1.111"/>
<text x="462.78" y="367.50" font-size="14.72" text-anchor="end" textLength="8.84" lengthAdjust="spacingAndGlyphs"  fill="#000">5</text>
<text x="637.50" y="351.00" font-size="16.33" text-anchor="middle" textLength="197.94" lengthAdjust="spacingAndGlyphs"  fill="#000">NoRP 3.75GHz Stokes-V</text>
<rect x="80.5" y="522.5" width="328.0" height="103.0" fill="none" stroke="#000" stroke-width="1.111" stroke-linejoin="miter"/>
<line x1="85.5" y1="625.5" x2="85.5" y2="630.36" stroke="#000" stroke-width="1.111"/>
<text x="85.50" y="645.80" font-size="14.72" text-anchor="middle" textLength="40.03" lengthAdjust="spacingAndGlyphs"  fill="#000">21:00</text>
<line x1="114.5" y1="625.5" x2="114.5" y2="630.36" stroke="#000" stroke-width="1.111"/>
<text x="114.50" y="645.80" font-size="14.72" text-anchor="middle" textLength="40.03" lengthAdjust="spacingAndGlyphs"  fill="#000">22:00</text>
<line x1="142.5" y1="625.5" x2="142.5" y2="630.36" stroke="#000" stroke-width="1.111"/>
<text x="142.50" y="645.80" font-size="14.72" text-anchor="middle" textLength="40.03" lengthAdjust="spacingAndGlyphs"  fill="#000">23:00</text>
<line x1="170.5" y1="625.5" x2="170.5" y2="630.36" stroke="#000" stroke-width="1.111"/>
<text x="170.50" y="645.80" font-size="14.72" text-anchor="middle" textLength="40.03" lengthAdjust="spacingAndGlyphs"  fill="#000">00:00</text>
<line x1="199.5" y1="625.5" x2="199.5" y2="630.36" stroke="#000" stroke-width="1.111"/>
<text x="199.50" y="645.80" font-size="14.72" text-anchor="middle" textLength="40.03" lengthAdjust="spacingAndGlyphs"  fill="#000">01:00</text>
<line x1="227.5" y1="625.5" x2="227.5" y2="630.36" stroke="#000" stroke-width="1.111"/>
<text x="227.50" y="645.80" font-size="14.72" text-anchor="middle" textLength="40.03" lengthAdjust="spacingAndGlyphs"  fill="#000">02:00</text>
<line x1="256.5" y1="625.5" x2="256.5" y2="630.36" stroke="#000" stroke-width="1.111"/>
<text x="256.50" y="645.80" font-size="14.72" text-anchor="middle" textLength="40.03" lengthAdjust="spacingAndGlyphs"  fill="#000">03:00</text>
<line x1="284.5" y1="625.5" x2="284.5" y2="630.36" stroke="#000" stroke-width="1.111"/>
<text x="284.50" y="645.80" font-size="14.72" text-anchor="middle" textLength="40.03" lengthAdjust="spacingAndGlyphs"  fill="#000">04:00</text>
<line x1="313.5" y1="625.5" x2="313.5" y2="630.36" stroke="#000" stroke-width="1.111"/>
<text x="313.50" y="645.80" font-size="14.72" text-anchor="middle" textLength="40.03" lengthAdjust="spacingAndGlyphs"  fill="#000">05:00</text>
<line x1="341.5" y1="625.5" x2="341.5" y2="630.36" stroke="#000" stroke-width="1.111"/>
<text x="341.50" y="645.80" font-size="14.72" text-anchor="middle" textLength="40.03" lengthAdjust="spacingAndGlyphs"  fill="#000">06:00</text>
<line x1="369.5" y1="625.5" x2="369.5" y2="630.36" stroke="#000" stroke-width="1.111"/>
<text x="369.50" y="645.80" font-size="14.72" text-anchor="middle" textLength="40.03" lengthAdjust="spacingAndGlyphs"  fill="#000">07:00</text>
<line x1="398.5" y1="625.5" x2="398.5" y2="630.36" stroke="#000" stroke-width="1.111"/>
<text x="398.50" y="645.80" font-size="14.72" text-anchor="middle" textLength="40.03" lengthAdjust="spacingAndGlyphs"  fill="#000">08:00</text>
<line x1="75.64" y1="584.5" x2="80.5" y2="584.5" stroke="#000" stroke-width="1.111"/>
<text x="69.78" y="588.50" font-size="14.72" text-anchor="end" textLength="26.51" lengthAdjust="spacingAndGlyphs"  fill="#000">200</text>
<line x1="75.64" y1="541.5" x2="80.5" y2="541.5" stroke="#000" stroke-width="1.111"/>
<text x="69.78" y="545.50" font-size="14.72" text-anchor="end" textLength="26.51" lengthAdjust="spacingAndGlyphs"  fill="#000">400</text>
<text x="244.50" y="514.00" font-size="16.33" text-anchor="middle" textLength="181.83" lengthAdjust="spacingAndGlyphs"  fill="#000">NoRP 9.4GHz Stokes-I</text>
<text x="33.50" y="574.00" font-size="14.72" text-anchor="middle" textLength="71.09" lengthAdjust="spacingAndGlyphs" transform="rotate(-90 33.50 574.00)" fill="#000">Flux [SFU]</text>
<rect x="473.5" y="522.5" width="328.0" height="103.0" fill="none" stroke="#000" stroke-width="1.111" stroke-linejoin="miter"/>
<line x1="478.5" y1="625.5" x2="478.5" y2="630.36" stroke="#000" stroke-width="1.111"/>
<text x="478.50" y="645.80" font-size="14.72" text-anchor="middle" textLength="40.03" lengthAdjust="spacingAndGlyphs"  fill="#000">21:00</text>
<line x1="507.5" y1="625.5" x2="507.5" y2="630.36" stroke="#000" stroke-width="1.111"/>
<text x="507.50" y="645.80" font-size="14.72" text-anchor="middle" textLength="40.03" lengthAdjust="spacingAndGlyphs"  fill="#000">22:00</text>
<line x1="535.5" y1="625.5" x2="535.5" y2="630.36" stroke="#000" stroke-width="1.111"/>
<text x="535.50" y="645.80" font-size="14.72" text-anchor="middle" textLength="40.03" lengthAdjust="spacingAndGlyphs"  fill="#000">23:00</text>
<line x1="563.5" y1="625.5" x2="563.5" y2="630.36" stroke="#000" stroke-width="1.111"/>
<text x="563.50" y="645.80" font-size="14.72" text-anchor="middle" textLength="40.03" lengthAdjust="spacingAndGlyphs"  fill="#000">00:00</text>
<line x1="592.5" y1="625.5" x2="592.5" y2="630.36" stroke="#000" stroke-width="1.111"/>
<text x="592.50" y="645.80" font-size="14.72" text-anchor="middle" textLength="40.03" lengthAdjust="spacingAndGlyphs"  fill="#000">01:00</text>
<line x1="620.5" y1="625.5" x2="620.5" y2="630.36" stroke="#000" stroke-width="1.111"/>
<text x="620.50" y="645.80" font-size="14.72" text-anchor="middle" textLength="40.03" lengthAdjust="spacingAndGlyphs"  fill="#000">02:00</text>
<line x1="649.5" y1="625.5" x2="649.5" y2="630.36" stroke="#000" stroke-width="1.111"/>
<text x="649.50" y="645.80" font-size="14.72" text-anchor="middle" textLength="40.03" lengthAdjust="spacingAndGlyphs"  fill="#000">03:00</text>
<line x1="677.5" y1="625.5" x2="677.5" y2="630.36" stroke="#000" stroke-width="1.111"/>
<text x="677.50" y="645.80" font-size="14.72" text-anchor="middle" textLength="40.03" lengthAdjust="spacingAndGlyphs"  fill="#000">04:00</text>
<line x1="706.5" y1="625.5" x2="706.5" y2="630.36" stroke="#000" stroke-width="1.111"/>
<text x="706.50" y="645.80" font-size="14.72" text-anchor="middle" textLength="40.03" lengthAdjust="spacingAndGlyphs"  fill="#000">05:00</text>
<line x1="734.5" y1="625.5" x2="734.5" y2="630.36" stroke="#000" stroke-width="1.111"/>
<text x="734.50" y="645.80" font-size="14.72" text-anchor="middle" textLength="40.03" lengthAdjust="spacingAndGlyphs"  fill="#000">06:00</text>
<line x1="762.5" y1="625.5" x2="762.5" y2="630.36" stroke="#000" stroke-width="1.111"/>
<text x="762.50" y="645.80" font-size="14.72" text-anchor="middle" textLength="40.03" lengthAdjust="spacingAndGlyphs"  fill="#000">07:00</text>
<line x1="791.5" y1="625.5" x2="791.5" y2="630.36" stroke="#000" stroke-width="1.111"/>
<text x="791.50" y="645.80" font-size="14.72" text-anchor="middle" textLength="40.03" lengthAdjust="spacingAndGlyphs"  fill="#000">08:00</text>
<line x1="468.64" y1="582.5" x2="473.5" y2="582.5" stroke="#000" stroke-width="1.111"/>
<text x="462.78" y="586.50" font-size="14.72" text-anchor="end" textLength="8.84" lengthAdjust="spacingAndGlyphs"  fill="#000">0</text>
<line x1="468.64" y1="536.5" x2="473.5" y2="536.5" stroke="#000" stroke-width="1.111"/>
<text x="462.78" y="540.50" font-size="14.72" text-anchor="end" textLength="26.51" lengthAdjust="spacingAndGlyphs"  fill="#000">200</text>
<text x="637.50" y="514.00" font-size="16.33" text-anchor="middle" textLength="187.34" lengthAdjust="spacingAndGlyphs"  fill="#000">NoRP 9.4GHz Stokes-V</text>
<rect x="80.5" y="684.5" width="328.0" height="103.0" fill="none" stroke="#000" stroke-width="1.111" stroke-linejoin="miter"/>
<line x1="85.5" y1="787.5" x2="85.5" y2="792.36" stroke="#000" stroke-width="1.111"/>
<text x="85.50" y="807.80" font-size="14.72" text-anchor="middle" textLength="40.03" lengthAdjust="spacingAndGlyphs"  fill="#000">21:00</text>
<line x1="114.5" y1="787.5" x2="114.5" y2="792.36" stroke="#000" stroke-width="1.111"/>
<text x="114.50" y="807.80" font-size="14.72" text-anchor="middle" textLength="40.03" lengthAdjust="spacingAndGlyphs"  fill="#000">22:00</text>
<line x1="142.5" y1="787.5" x2="142.5" y2="792.36" stroke="#000" stroke-width="1.111"/>
<text x="142.50" y="807.80" font-size="14.72" text-anchor="middle" textLength="40.03" lengthAdjust="spacingAndGlyphs"  fill="#000">23:00</text>
<line x1="170.5" y1="787.5" x2="170.5" y2="792.36" stroke="#000" stroke-width="1.111"/>
<text x="170.50" y="807.80" font-size="14.72" text-anchor="middle" textLength="40.03" lengthAdjust="spacingAndGlyphs"  fill="#000">00:00</text>
<line x1="199.5" y1="787.5" x2="199.5" y2="792.36" stroke="#000" stroke-width="1.111"/>
<text x="199.50" y="807.80" font-size="14.72" text-anchor="middle" textLength="40.03" lengthAdjust="spacingAndGlyphs"  fill="#000">01:00</text>
<line x1="227.5" y1="787.5" x2="227.5" y2="792.36" stroke="#000" stroke-width="1.111"/>
<text x="227.50" y="807.80" font-size="14.72" text-anchor="middle" textLength="40.03" lengthAdjust="spacingAndGlyphs"  fill="#000">02:00</text>
<line x1="256.5" y1="787.5" x2="256.5" y2="792.36" stroke="#000" stroke-width="1.111"/>
<text x="256.50" y="807.80" font-size="14.72" text-anchor="middle" textLength="40.03" lengthAdjust="spacingAndGlyphs"  fill="#000">03:00</text>
<line x1="284.5" y1="787.5" x2="284.5" y2="792.36" stroke="#000" stroke-width="1.111"/>
<text x="284.50" y="807.80" font-size="14.72" text-anchor="middle" textLength="40.03" lengthAdjust="spacingAndGlyphs"  fill="#000">04:00</text>
<line x1="313.5" y1="787.5" x2="313.5" y2="792.36" stroke="#000" stroke-width="1.111"/>
<text x="313.50" y="807.80" font-size="14.72" text-anchor="middle" textLength="40.03" lengthAdjust="spacingAndGlyphs"  fill="#000">05:00</text>
<line x1="341.5" y1="787.5" x2="341.5" y2="792.36" stroke="#000" stroke-width="1.111"/>
<text x="341.50" y="807.80" font-size="14.72" text-anchor="middle" textLength="40.03" lengthAdjust="spacingAndGlyphs"  fill="#000">06:00</text>
<line x1="369.5" y1="787.5" x2="369.5" y2="792.36" stroke="#000" stroke-width="1.111"/>
<text x="369.50" y="807.80" font-size="14.72" text-anchor="middle" textLength="40.03" lengthAdjust="spacingAndGlyphs"  fill="#000">07:00</text>
<line x1="398.5" y1="787.5" x2="398.5" y2="792.36" stroke="#000" stroke-width="1.111"/>
<text x="398.50" y="807.80" font-size="14.72" text-anchor="middle" textLength="40.03" lengthAdjust="spacingAndGlyphs"  fill="#000">08:00</text>
<line x1="75.64" y1="787.5" x2="80.5" y2="787.5" stroke="#000" stroke-width="1.111"/>
<text x="69.78" y="791.50" font-size="14.72" text-anchor="end" textLength="8.84" lengthAdjust="spacingAndGlyphs"  fill="#000">0</text>
<line x1="75.64" y1="723.5" x2="80.5" y2="723.5" stroke="#000" stroke-width="1.111"/>
<text x="69.78" y="727.50" font-size="14.72" text-anchor="end" textLength="26.51" lengthAdjust="spacingAndGlyphs"  fill="#000">500</text>
<text x="244.50" y="676.00" font-size="16.33" text-anchor="middle" textLength="176.53" lengthAdjust="spacingAndGlyphs"  fill="#000">NoRP 17GHz Stokes-I</text>
<text x="33.50" y="736.00" font-size="14.72" text-anchor="middle" textLength="71.09" lengthAdjust="spacingAndGlyphs" transform="rotate(-90 33.50 736.00)" fill="#000">Flux [SFU]</text>
<rect x="473.5" y="684.5" width="328.0" height="103.0" fill="none" stroke="#000" stroke-width="1.111" stroke-linejoin="miter"/>
<line x1="478.5" y1="787.5" x2="478.5" y2="792.36" stroke="#000" stroke-width="1.111"/>
<text x="478.50" y="807.80" font-size="14.72" text-anchor="middle" textLength="40.03" lengthAdjust="spacingAndGlyphs"  fill="#000">21:00</text>
<line x1="507.5" y1="787.5" x2="507.5" y2="792.36" stroke="#000" stroke-width="1.111"/>
<text x="507.50" y="807.80" font-size="14.72" text-anchor="middle" textLength="40.03" lengthAdjust="spacingAndGlyphs"  fill="#000">22:00</text>
<line x1="535.5" y1="787.5" x2="535.5" y2="792.36" stroke="#000" stroke-width="1.111"/>
<text x="535.50" y="807.80" font-size="14.72" text-anchor="middle" textLength="40.03" lengthAdjust="spacingAndGlyphs"  fill="#000">23:00</text>
<line x1="563.5" y1="787.5" x2="563.5" y2="792.36" stroke="#000" stroke-width="1.111"/>
<text x="563.50" y="807.80" font-size="14.72" text-anchor="middle" textLength="40.03" lengthAdjust="spacingAndGlyphs"  fill="#000">00:00</text>
<line x1="592.5" y1="787.5" x2="592.5" y2="792.36" stroke="#000" stroke-width="1.111"/>
<text x="592.50" y="807.80" font-size="14.72" text-anchor="middle" textLength="40.03" lengthAdjust="spacingAndGlyphs"  fill="#000">01:00</text>
<line x1="620.5" y1="787.5" x2="620.5" y2="792.36" stroke="#000" stroke-width="1.111"/>
<text x="620.50" y="807.80" font-size="14.72" text-anchor="middle" textLength="40.03" lengthAdjust="spacingAndGlyphs"  fill="#000">02:00</text>
<line x1="649.5" y1="787.5" x2="649.5" y2="792.36" stroke="#000" stroke-width="1.111"/>
<text x="649.50" y="807.80" font-size="14.72" text-anchor="middle" textLength="40.03" lengthAdjust="spacingAndGlyphs"  fill="#000">03:00</text>
<line x1="677.5" y1="787.5" x2="677.5" y2="792.36" stroke="#000" stroke-width="1.111"/>
<text x="677.50" y="807.80" font-size="14.72" text-anchor="middle" textLength="40.03" lengthAdjust="spacingAndGlyphs"  fill="#000">04:00</text>
<line x1="706.5" y1="787.5" x2="706.5" y2="792.36" stroke="#000" stroke-width="1.111"/>
<text x="706.50" y="807.80" font-size="14.72" text-anchor="middle" textLength="40.03" lengthAdjust="spacingAndGlyphs"  fill="#000">05:00</text>
<line x1="734.5" y1="787.5" x2="734.5" y2="792.36" stroke="#000" stroke-width="1.111"/>
<text x="734.50" y="807.80" font-size="14.72" text-anchor="middle" textLength="40.03" lengthAdjust="spacingAndGlyphs"  fill="#000">06:00</text>
<line x1="762.5" y1="787.5" x2="762.5" y2="792.36" stroke="#000" stroke-width="1.111"/>
<text x="762.50" y="807.80" font-size="14.72" text-anchor="middle" textLength="40.03" lengthAdjust="spacingAndGlyphs"  fill="#000">07:00</text>
<line x1="791.5" y1="787.5" x2="791.5" y2="792.36" stroke="#000" stroke-width="1.111"/>
<text x="791.50" y="807.80" font-size="14.72" text-anchor="middle" textLength="40.03" lengthAdjust="spacingAndGlyphs"  fill="#000">08:00</text>
<line x1="468.64" y1="750.5" x2="473.5" y2="750.5" stroke="#000" stroke-width="1.111"/>
<text x="462.78" y="754.50" font-size="14.72" text-anchor="end" textLength="8.84" lengthAdjust="spacingAndGlyphs"  fill="#000">0</text>
<line x1="468.64" y1="701.5" x2="473.5" y2="701.5" stroke="#000" stroke-width="1.111"/>
<text x="462.78" y="705.50" font-size="14.72" text-anchor="end" textLength="17.67" lengthAdjust="spacingAndGlyphs"  fill="#000">50</text>
<text x="637.50" y="676.00" font-size="16.33" text-anchor="middle" textLength="182.04" lengthAdjust="spacingAndGlyphs"  fill="#000">NoRP 17GHz Stokes-V</text>
<rect x="80.5" y="846.5" width="328.0" height="103.0" fill="none" stroke="#000" stroke-width="1.111" stroke-linejoin="miter"/>
<line x1="85.5" y1="949.5" x2="85.5" y2="954.36" stroke="#000" stroke-width="1.111"/>
<text x="85.50" y="969.80" font-size="14.72" text-anchor="middle" textLength="40.03" lengthAdjust="spacingAndGlyphs"  fill="#000">21:00</text>
<line x1="114.5" y1="949.5" x2="114.5" y2="954.36" stroke="#000" stroke-width="1.111"/>
<text x="114.50" y="969.80" font-size="14.72" text-anchor="middle" textLength="40.03" lengthAdjust="spacingAndGlyphs"  fill="#000">22:00</text>
<line x1="142.5" y1="949.5" x2="142.5" y2="954.36" stroke="#000" stroke-width="1.111"/>
<text x="142.50" y="969.80" font-size="14.72" text-anchor="middle" textLength="40.03" lengthAdjust="spacingAndGlyphs"  fill="#000">23:00</text>
<line x1="170.5" y1="949.5" x2="170.5" y2="954.36" stroke="#000" stroke-width="1.111"/>
<text x="170.50" y="969.80" font-size="14.72" text-anchor="middle" textLength="40.03" lengthAdjust="spacingAndGlyphs"  fill="#000">00:00</text>
<line x1="199.5" y1="949.5" x2="199.5" y2="954.36" stroke="#000" stroke-width="1.111"/>
<text x="199.50" y="969.80" font-size="14.72" text-anchor="middle" textLength="40.03" lengthAdjust="spacingAndGlyphs"  fill="#000">01:00</text>
<line x1="227.5" y1="949.5" x2="227.5" y2="954.36" stroke="#000" stroke-width="1.111"/>
<text x="227.50" y="969.80" font-size="14.72" text-anchor="middle" textLength="40.03" lengthAdjust="spacingAndGlyphs"  fill="#000">02:00</text>
<line x1="256.5" y1="949.5" x2="256.5" y2="954.36" stroke="#000" stroke-width="1.111"/>
<text x="256.50" y="969.80" font-size="14.72" text-anchor="middle" textLength="40.03" lengthAdjust="spacingAndGlyphs"  fill="#000">03:00</text>
<line x1="284.5" y1="949.5" x2="284.5" y2="954.36" stroke="#000" stroke-width="1.111"/>
<text x="284.50" y="969.80" font-size="14.72" text-anchor="middle" textLength="40.03" lengthAdjust="spacingAndGlyphs"  fill="#000">04:00</text>
<line x1="313.5" y1="949.5" x2="313.5" y2="954.36" stroke="#000" stroke-width="1.111"/>
<text x="313.50" y="969.80" font-size="14.72" text-anchor="middle" textLength="40.03" lengthAdjust="spacingAndGlyphs"  fill="#000">05:00</text>
<line x1="341.5" y1="949.5" x2="341.5" y2="954.36" stroke="#000" stroke-width="1.111"/>
<text x="341.50" y="969.80" font-size="14.72" text-anchor="middle" textLength="40.03" lengthAdjust="spacingAndGlyphs"  fill="#000">06:00</text>
<line x1="369.5" y1="949.5" x2="369.5" y2="954.36" stroke="#000" stroke-width="1.111"/>
<text x="369.50" y="969.80" font-size="14.72" text-anchor="middle" textLength="40.03" lengthAdjust="spacingAndGlyphs"  fill="#000">07:00</text>
<line x1="398.5" y1="949.5" x2="398.5" y2="954.36" stroke="#000" stroke-width="1.111"/>
<text x="398.50" y="969.80" font-size="14.72" text-anchor="middle" textLength="40.03" lengthAdjust="spacingAndGlyphs"  fill="#000">08:00</text>
<line x1="75.64" y1="933.5" x2="80.5" y2="933.5" stroke="#000" stroke-width="1.111"/>
<text x="69.78" y="937.50" font-size="14.72" text-anchor="end" textLength="35.35" lengthAdjust="spacingAndGlyphs"  fill="#000">1500</text>
<line x1="75.64" y1="899.5" x2="80.5" y2="899.5" stroke="#000" stroke-width="1.111"/>
<text x="69.78" y="903.50" font-size="14.72" text-anchor="end" textLength="35.35" lengthAdjust="spacingAndGlyphs"  fill="#000">2000</text>
<line x1="75.64" y1="865.5" x2="80.5" y2="865.5" stroke="#000" stroke-width="1.111"/>
<text x="69.78" y="869.50" font-size="14.72" text-anchor="end" textLength="35.35" lengthAdjust="spacingAndGlyphs"  fill="#000">2500</text>
<text x="244.50" y="838.00" font-size="16.33" text-anchor="middle" textLength="176.53" lengthAdjust="spacingAndGlyphs"  fill="#000">NoRP 35GHz Stokes-I</text>
<text x="24.70" y="898.00" font-size="14.72" text-anchor="middle" textLength="71.09" lengthAdjust="spacingAndGlyphs" transform="rotate(-90 24.70 898.00)" fill="#000">Flux [SFU]</text>
<rect x="473.5" y="846.5" width="328.0" height="103.0" fill="none" stroke="#000" stroke-width="1.111" stroke-linejoin="miter"/>
<line x1="478.5" y1="949.5" x2="478.5" y2="954.36" stroke="#000" stroke-width="1.111"/>
<text x="478.50" y="969.80" font-size="14.72" text-anchor="middle" textLength="40.03" lengthAdjust="spacingAndGlyphs"  fill="#000">21:00</text>
<line x1="507.5" y1="949.5" x2="507.5" y2="954.36" stroke="#000" stroke-width="1.111"/>
<text x="507.50" y="969.80" font-size="14.72" text-anchor="middle" textLength="40.03" lengthAdjust="spacingAndGlyphs"  fill="#000">22:00</text>
<line x1="535.5" y1="949.5" x2="535.5" y2="954.36" stroke="#000" stroke-width="1.111"/>
<text x="535.50" y="969.80" font-size="14.72" text-anchor="middle" textLength="40.03" lengthAdjust="spacingAndGlyphs"  fill="#000">23:00</text>
<line x1="563.5" y1="949.5" x2="563.5" y2="954.36" stroke="#000" stroke-width="1.111"/>
<text x="563.50" y="969.80" font-size="14.72" text-anchor="middle" textLength="40.03" lengthAdjust="spacingAndGlyphs"  fill="#000">00:00</text>
<line x1="592.5" y1="949.5" x2="592.5" y2="954.36" stroke="#000" stroke-width="1.111"/>
<text x="592.50" y="969.80" font-size="14.72" text-anchor="middle" textLength="40.03" lengthAdjust="spacingAndGlyphs"  fill="#000">01:00</text>
<line x1="620.5" y1="949.5" x2="620.5" y2="954.36" stroke="#000" stroke-width="1.111"/>
<text x="620.50" y="969.80" font-size="14.72" text-anchor="middle" textLength="40.03" lengthAdjust="spacingAndGlyphs"  fill="#000">02:00</text>
<line x1="649.5" y1="949.5" x2="649.5" y2="954.36" stroke="#000" stroke-width="1.111"/>
<text x="649.50" y="969.80" font-size="14.72" text-anchor="middle" textLength="40.03" lengthAdjust="spacingAndGlyphs"  fill="#000">03:00</text>
<line x1="677.5" y1="949.5" x2="677.5" y2="954.36" stroke="#000" stroke-width="1.111"/>
<text x="677.50" y="969.80" font-size="14.72" text-anchor="middle" textLength="40.03" lengthAdjust="spacingAndGlyphs"  fill="#000">04:00</text>
<line x1="706.5" y1="949.5" x2="706.5" y2="954.36" stroke="#000" stroke-width="1.111"/>
<text x="706.50" y="969.80" font-size="14.72" text-anchor="middle" textLength="40.03" lengthAdjust="spacingAndGlyphs"  fill="#000">05:00</text>
<line x1="734.5" y1="949.5" x2="734.5" y2="954.36" stroke="#000" stroke-width="1.111"/>
<text x="734.50" y="969.80" font-size="14.72" text-anchor="middle" textLength="40.03" lengthAdjust="spacingAndGlyphs"  fill="#000">06:00</text>
<line x1="762.5" y1="949.5" x2="762.5" y2="954.36" stroke="#000" stroke-width="1.111"/>
<text x="762.50" y="969.80" font-size="14.72" text-anchor="middle" textLength="40.03" lengthAdjust="spacingAndGlyphs"  fill="#000">07:00</text>
<line x1="791.5" y1="949.5" x2="791.5" y2="954.36" stroke="#000" stroke-width="1.111"/>
<text x="791.50" y="969.80" font-size="14.72" text-anchor="middle" textLength="40.03" lengthAdjust="spacingAndGlyphs"  fill="#000">08:00</text>
<line x1="468.64" y1="935.5" x2="473.5" y2="935.5" stroke="#000" stroke-width="1.111"/>
<text x="462.78" y="939.50" font-size="14.72" text-anchor="end" textLength="29.31" lengthAdjust="spacingAndGlyphs"  fill="#000">−50</text>
<line x1="468.64" y1="893.5" x2="473.5" y2="893.5" stroke="#000" stroke-width="1.111"/>
<text x="462.78" y="897.50" font-size="14.72" text-anchor="end" textLength="8.84" lengthAdjust="spacingAndGlyphs"  fill="#000">0</text>
<line x1="468.64" y1="852.5" x2="473.5" y2="852.5" stroke="#000" stroke-width="1.111"/>
<text x="462.78" y="856.50" font-size="14.72" text-anchor="end" textLength="17.67" lengthAdjust="spacingAndGlyphs"  fill="#000">50</text>
<text x="637.50" y="838.00" font-size="16.33" text-anchor="middle" textLength="182.04" lengthAdjust="spacingAndGlyphs"  fill="#000">NoRP 35GHz Stokes-V</text>
<rect x="80.5" y="1008.5" width="328.0" height="103.0" fill="none" stroke="#000" stroke-width="1.111" stroke-linejoin="miter"/>
<line x1="80.5" y1="1111.5" x2="80.5" y2="1116.36" stroke="#000" stroke-width="1.111"/>
<text x="80.50" y="1131.80" font-size="14.72" text-anchor="middle" textLength="22.09" lengthAdjust="spacingAndGlyphs"  fill="#000">0.0</text>
<line x1="146.5" y1="1111.5" x2="146.5" y2="1116.36" stroke="#000" stroke-width="1.111"/>
<text x="146.50" y="1131.80" font-size="14.72" text-anchor="middle" textLength="22.09" lengthAdjust="spacingAndGlyphs"  fill="#000">0.2</text>
<line x1="211.5" y1="1111.5" x2="211.5" y2="1116.36" stroke="#000" stroke-width="1.111"/>
<text x="211.50" y="1131.80" font-size="14.72" text-anchor="middle" textLength="22.09" lengthAdjust="spacingAndGlyphs"  fill="#000">0.4</text>
<line x1="277.5" y1="1111.5" x2="277.5" y2="1116.36" stroke="#000" stroke-width="1.111"/>
<text x="277.50" y="1131.80" font-size="14.72" text-anchor="middle" textLength="22.09" lengthAdjust="spacingAndGlyphs"  fill="#000">0.6</text>
<line x1="342.5" y1="1111.5" x2="342.5" y2="1116.36" stroke="#000" stroke-width="1.111"/>
<text x="342.50" y="1131.80" font-size="14.72" text-anchor="middle" textLength="22.09" lengthAdjust="spacingAndGlyphs"  fill="#000">0.8</text>
<line x1="408.5" y1="1111.5" x2="408.5" y2="1116.36" stroke="#000" stroke-width="1.111"/>
<text x="408.50" y="1131.80" font-size="14.72" text-anchor="middle" textLength="22.09" lengthAdjust="spacingAndGlyphs"  fill="#000">1.0</text>
<line x1="75.64" y1="1111.5" x2="80.5" y2="1111.5" stroke="#000" stroke-width="1.111"/>
<text x="69.78" y="1115.50" font-size="14.72" text-anchor="end" textLength="22.09" lengthAdjust="spacingAndGlyphs"  fill="#000">0.0</text>
<line x1="75.64" y1="1060.5" x2="80.5" y2="1060.5" stroke="#000" stroke-width="1.111"/>
<text x="69.78" y="1064.50" font-size="14.72" text-anchor="end" textLength="22.09" lengthAdjust="spacingAndGlyphs"  fill="#000">0.5</text>
<line x1="75.64" y1="1008.5" x2="80.5" y2="1008.5" stroke="#000" stroke-width="1.111"/>
<text x="69.78" y="1012.50" font-size="14.72" text-anchor="end" textLength="22.09" lengthAdjust="spacingAndGlyphs"  fill="#000">1.0</text>
<text x="244.50" y="1000.00" font-size="16.33" text-anchor="middle" textLength="176.53" lengthAdjust="spacingAndGlyphs"  fill="#000">NoRP 80GHz Stokes-I</text>
<text x="38.50" y="1060.00" font-size="14.72" text-anchor="middle" textLength="71.09" lengthAdjust="spacingAndGlyphs" transform="rotate(-90 38.50 1060.00)" fill="#000">Flux [SFU]</text>
<text x="251.70" y="1069.60" font-size="29.44" text-anchor="middle" textLength="112.93" lengthAdjust="spacingAndGlyphs"  fill="#000">No Data</text>
<text x="244.50" y="1150.80" font-size="14.72" text-anchor="middle" textLength="63.48" lengthAdjust="spacingAndGlyphs"  fill="#000">Time[UT]</text>
<rect x="473.5" y="1008.5" width="328.0" height="103.0" fill="none" stroke="#000" stroke-width="1.111" stroke-linejoin="miter"/>
<line x1="473.5" y1="1111.5" x2="473.5" y2="1116.36" stroke="#000" stroke-width="1.111"/>
<text x="473.50" y="1131.80" font-size="14.72" text-anchor="middle" textLength="22.09" lengthAdjust="spacingAndGlyphs"  fill="#000">0.0</text>
<line x1="539.5" y1="1111.5" x2="539.5" y2="1116.36" stroke="#000" stroke-width="1.111"/>
<text x="539.50" y="1131.80" font-size="14.72" text-anchor="middle" textLength="22.09" lengthAdjust="spacingAndGlyphs"  fill="#000">0.2</text>
<line x1="604.5" y1="1111.5" x2="604.5" y2="1116.36" stroke="#000" stroke-width="1.111"/>
<text x="604.50" y="1131.80" font-size="14.72" text-anchor="middle" textLength="22.09" lengthAdjust="spacingAndGlyphs"  fill="#000">0.4</text>
<line x1="670.5" y1="1111.5" x2="670.5" y2="1116.36" stroke="#000" stroke-width="1.111"/>
<text x="670.50" y="1131.80" font-size="14.72" text-anchor="middle" textLength="22.09" lengthAdjust="spacingAndGlyphs"  fill="#000">0.6</text>
<line x1="735.5" y1="1111.5" x2="735.5" y2="1116.36" stroke="#000" stroke-width="1.111"/>
<text x="735.50" y="1131.80" font-size="14.72" text-anchor="middle" textLength="22.09" lengthAdjust="spacingAndGlyphs"  fill="#000">0.8</text>
<line x1="801.5" y1="1111.5" x2="801.5" y2="1116.36" stroke="#000" stroke-width="1.111"/>
<text x="801.50" y="1131.80" font-size="14.72" text-anchor="middle" textLength="22.09" lengthAdjust="spacingAndGlyphs"  fill="#000">1.0</text>
<line x1="468.64" y1="1111.5" x2="473.5" y2="1111.5" stroke="#000" stroke-width="1.111"/>
<text x="462.78" y="1115.50" font-size="14.72" text-anchor="end" textLength="22.09" lengthAdjust="spacingAndGlyphs"  fill="#000">0.0</text>
<line x1="468.64" y1="1060.5" x2="473.5" y2="1060.5" stroke="#000" stroke-width="1.111"/>
<text x="462.78" y="1064.50" font-size="14.72" text-anchor="end" textLength="22.09" lengthAdjust="spacingAndGlyphs"  fill="#000">0.5</text>
<line x1="468.64" y1="1008.5" x2="473.5" y2="1008.5" stroke="#000" stroke-width="1.111"/>
<text x="462.78" y="1012.50" font-size="14.72" text-anchor="end" textLength="22.09" lengthAdjust="spacingAndGlyphs"  fill="#000">1.0</text>
<text x="637.50" y="1000.00" font-size="16.33" text-anchor="middle" textLength="182.04" lengthAdjust="spacingAndGlyphs"  fill="#000">NoRP 80GHz Stokes-V</text>
<text x="644.70" y="1069.60" font-size="29.44" text-anchor="middle" textLength="112.93" lengthAdjust="spacingAndGlyphs"  fill="#000">No Data</text>
<text x="637.50" y="1150.80" font-size="14.72" text-anchor="middle" textLength="63.48" lengthAdjust="spacingAndGlyphs"  fill="#000">Time[UT]</text>
</g>
</svg>
</body></html>
